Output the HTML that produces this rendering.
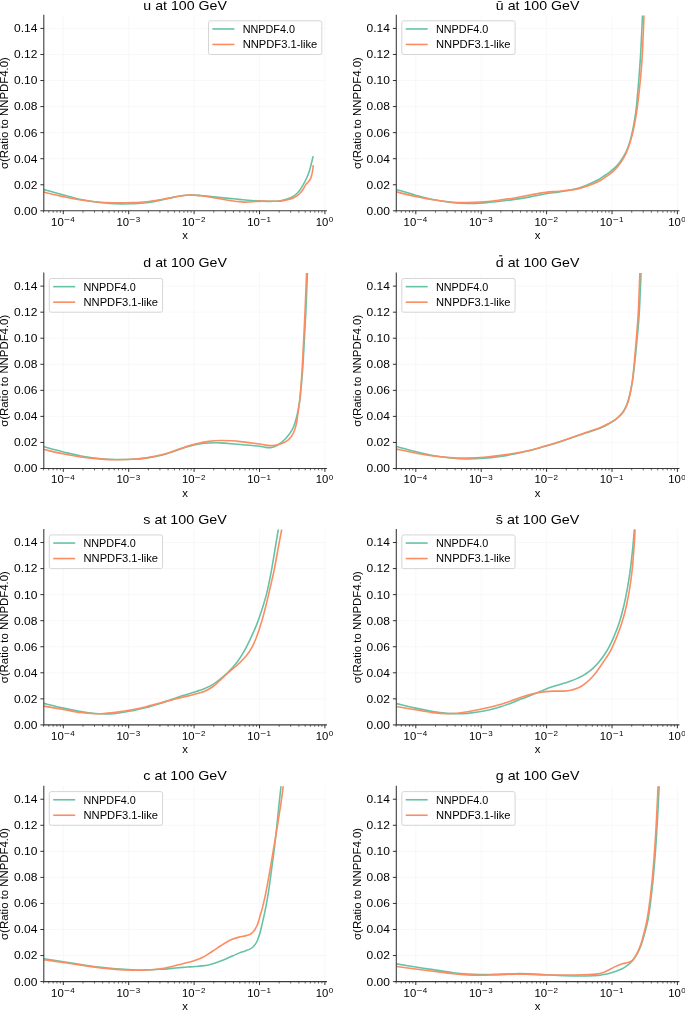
<!DOCTYPE html>
<html lang="en"><head><meta charset="utf-8"><title>PDF uncertainty comparison at 100 GeV</title>
<style>
html,body{margin:0;padding:0;background:#ffffff;}
body{width:685px;height:1010px;overflow:hidden;font-family:"Liberation Sans",sans-serif;}
svg{will-change:transform;}
svg text{font-family:"Liberation Sans",sans-serif;fill:#000000;}
.tl{font-size:11.3px;}
.tt{font-size:13.3px;}
.ts{font-size:8px;}
.grid{stroke:#f3f3f3;stroke-width:0.55;}
.spine{fill:none;stroke:#3c3c3c;stroke-width:1.1;stroke-linecap:square;}
.tick{stroke:#1c1c1c;stroke-width:0.9;}
.mtick{stroke:#2a2a2a;stroke-width:0.7;}
</style></head><body>
<svg role="img" aria-label="PDF uncertainties, ratio to NNPDF4.0, at 100 GeV" width="685" height="1010" viewBox="0 0 685 1010" style="display:block">
<rect width="685" height="1010" fill="#ffffff"/>
<defs>
<clipPath id="cp00"><rect x="43.80" y="15.40" width="282.60" height="195.40"/></clipPath>
<clipPath id="cp01"><rect x="396.30" y="15.40" width="282.60" height="195.40"/></clipPath>
<clipPath id="cp10"><rect x="43.80" y="273.10" width="282.60" height="195.40"/></clipPath>
<clipPath id="cp11"><rect x="396.30" y="273.10" width="282.60" height="195.40"/></clipPath>
<clipPath id="cp20"><rect x="43.80" y="529.50" width="282.60" height="195.40"/></clipPath>
<clipPath id="cp21"><rect x="396.30" y="529.50" width="282.60" height="195.40"/></clipPath>
<clipPath id="cp30"><rect x="43.80" y="786.20" width="282.60" height="195.40"/></clipPath>
<clipPath id="cp31"><rect x="396.30" y="786.20" width="282.60" height="195.40"/></clipPath>
</defs>
<g id="ax00"><line x1="63.30" y1="15.40" x2="63.30" y2="210.80" class="grid"/>
<line x1="128.70" y1="15.40" x2="128.70" y2="210.80" class="grid"/>
<line x1="194.10" y1="15.40" x2="194.10" y2="210.80" class="grid"/>
<line x1="259.50" y1="15.40" x2="259.50" y2="210.80" class="grid"/>
<line x1="324.90" y1="15.40" x2="324.90" y2="210.80" class="grid"/>
<line x1="43.80" y1="210.80" x2="326.40" y2="210.80" class="grid"/>
<line x1="43.80" y1="184.75" x2="326.40" y2="184.75" class="grid"/>
<line x1="43.80" y1="158.69" x2="326.40" y2="158.69" class="grid"/>
<line x1="43.80" y1="132.64" x2="326.40" y2="132.64" class="grid"/>
<line x1="43.80" y1="106.59" x2="326.40" y2="106.59" class="grid"/>
<line x1="43.80" y1="80.53" x2="326.40" y2="80.53" class="grid"/>
<line x1="43.80" y1="54.48" x2="326.40" y2="54.48" class="grid"/>
<line x1="43.80" y1="28.43" x2="326.40" y2="28.43" class="grid"/>
<path d="M43.80,189.40 C47.08,190.33 57.30,193.29 63.48,194.98 C69.67,196.66 74.62,198.23 80.92,199.52 C87.22,200.81 94.50,201.99 101.29,202.72 C108.09,203.44 116.58,203.72 121.70,203.89 C126.82,204.05 127.90,203.92 132.00,203.72 C136.10,203.52 141.20,203.35 146.30,202.69 C151.40,202.03 158.64,200.54 162.59,199.77 C166.54,198.99 167.07,198.67 170.01,198.04 C172.95,197.41 176.80,196.50 180.20,195.98 C183.60,195.47 186.98,195.03 190.40,194.95 C193.82,194.87 197.28,195.21 200.70,195.49 C204.11,195.76 207.50,196.23 210.90,196.58 C214.30,196.94 217.70,197.27 221.10,197.60 C224.50,197.94 227.90,198.27 231.30,198.60 C234.70,198.94 238.10,199.29 241.50,199.60 C244.90,199.92 248.28,200.25 251.70,200.50 C255.12,200.75 258.58,200.98 262.00,201.11 C265.42,201.25 269.14,201.39 272.21,201.31 C275.27,201.24 277.68,201.13 280.40,200.68 C283.12,200.23 286.14,199.48 288.52,198.61 C290.89,197.74 292.96,196.64 294.67,195.45 C296.38,194.27 297.42,193.19 298.77,191.50 C300.13,189.81 301.47,187.66 302.83,185.32 C304.18,182.99 305.79,179.92 306.90,177.50 C308.01,175.08 308.72,173.18 309.47,170.79 C310.23,168.41 310.81,165.66 311.43,163.21 C312.05,160.76 312.91,157.28 313.20,156.10" fill="none" stroke="#66c2a5" stroke-width="1.6" stroke-linecap="butt" stroke-linejoin="round" clip-path="url(#cp00)"/>
<path d="M43.80,192.10 C47.08,192.86 57.31,195.32 63.50,196.64 C69.68,197.95 74.61,199.03 80.91,199.97 C87.21,200.91 94.50,201.82 101.30,202.28 C108.10,202.75 116.58,202.70 121.70,202.76 C126.82,202.83 127.90,202.84 132.00,202.66 C136.10,202.49 141.20,202.27 146.30,201.69 C151.40,201.12 158.66,199.86 162.60,199.23 C166.55,198.61 167.06,198.50 169.99,197.96 C172.93,197.42 176.81,196.49 180.21,195.99 C183.61,195.49 186.98,195.00 190.40,194.97 C193.81,194.93 197.28,195.39 200.70,195.77 C204.11,196.14 207.50,196.67 210.90,197.21 C214.30,197.75 217.70,198.42 221.10,199.00 C224.50,199.58 227.90,200.21 231.30,200.70 C234.70,201.18 238.77,201.67 241.50,201.90 C244.24,202.13 245.31,202.13 247.70,202.07 C250.08,202.00 253.08,201.67 255.80,201.51 C258.52,201.36 261.27,201.17 264.00,201.13 C266.73,201.10 269.47,201.31 272.20,201.30 C274.94,201.29 277.69,201.37 280.40,201.08 C283.12,200.80 286.12,200.25 288.50,199.60 C290.88,198.95 292.98,198.05 294.70,197.20 C296.42,196.35 297.45,195.73 298.80,194.50 C300.15,193.27 301.65,191.45 302.80,189.80 C303.95,188.15 304.80,185.90 305.70,184.60 C306.60,183.30 307.37,183.05 308.20,182.00 C309.03,180.95 310.07,179.65 310.70,178.30 C311.33,176.95 311.63,175.47 312.00,173.90 C312.37,172.33 312.70,170.37 312.90,168.90 C313.10,167.43 313.15,165.73 313.20,165.10" fill="none" stroke="#fc8d62" stroke-width="1.6" stroke-linecap="butt" stroke-linejoin="round" clip-path="url(#cp00)"/>
<path d="M43.80,15.40 V210.80 H326.40" class="spine"/>
<line x1="63.30" y1="210.80" x2="63.30" y2="214.20" class="tick"/>
<text x="63.70" y="225.70" class="tl" text-anchor="end">10</text>
<text x="64.20" y="221.80" class="ts"><tspan textLength="5.9" lengthAdjust="spacingAndGlyphs">−</tspan><tspan x="70.30">4</tspan></text>
<line x1="128.70" y1="210.80" x2="128.70" y2="214.20" class="tick"/>
<text x="129.10" y="225.70" class="tl" text-anchor="end">10</text>
<text x="129.60" y="221.80" class="ts"><tspan textLength="5.9" lengthAdjust="spacingAndGlyphs">−</tspan><tspan x="135.70">3</tspan></text>
<line x1="194.10" y1="210.80" x2="194.10" y2="214.20" class="tick"/>
<text x="194.50" y="225.70" class="tl" text-anchor="end">10</text>
<text x="195.00" y="221.80" class="ts"><tspan textLength="5.9" lengthAdjust="spacingAndGlyphs">−</tspan><tspan x="201.10">2</tspan></text>
<line x1="259.50" y1="210.80" x2="259.50" y2="214.20" class="tick"/>
<text x="259.90" y="225.70" class="tl" text-anchor="end">10</text>
<text x="260.40" y="221.80" class="ts"><tspan textLength="5.9" lengthAdjust="spacingAndGlyphs">−</tspan><tspan x="266.50">1</tspan></text>
<line x1="324.90" y1="210.80" x2="324.90" y2="214.20" class="tick"/>
<text x="328.30" y="225.70" class="tl" text-anchor="end">10</text>
<text x="328.80" y="221.80" class="ts">0</text>
<line x1="43.61" y1="210.80" x2="43.61" y2="212.70" class="mtick"/>
<line x1="48.79" y1="210.80" x2="48.79" y2="212.70" class="mtick"/>
<line x1="53.17" y1="210.80" x2="53.17" y2="212.70" class="mtick"/>
<line x1="56.96" y1="210.80" x2="56.96" y2="212.70" class="mtick"/>
<line x1="60.31" y1="210.80" x2="60.31" y2="212.70" class="mtick"/>
<line x1="82.99" y1="210.80" x2="82.99" y2="212.70" class="mtick"/>
<line x1="94.50" y1="210.80" x2="94.50" y2="212.70" class="mtick"/>
<line x1="102.67" y1="210.80" x2="102.67" y2="212.70" class="mtick"/>
<line x1="109.01" y1="210.80" x2="109.01" y2="212.70" class="mtick"/>
<line x1="114.19" y1="210.80" x2="114.19" y2="212.70" class="mtick"/>
<line x1="118.57" y1="210.80" x2="118.57" y2="212.70" class="mtick"/>
<line x1="122.36" y1="210.80" x2="122.36" y2="212.70" class="mtick"/>
<line x1="125.71" y1="210.80" x2="125.71" y2="212.70" class="mtick"/>
<line x1="148.39" y1="210.80" x2="148.39" y2="212.70" class="mtick"/>
<line x1="159.90" y1="210.80" x2="159.90" y2="212.70" class="mtick"/>
<line x1="168.07" y1="210.80" x2="168.07" y2="212.70" class="mtick"/>
<line x1="174.41" y1="210.80" x2="174.41" y2="212.70" class="mtick"/>
<line x1="179.59" y1="210.80" x2="179.59" y2="212.70" class="mtick"/>
<line x1="183.97" y1="210.80" x2="183.97" y2="212.70" class="mtick"/>
<line x1="187.76" y1="210.80" x2="187.76" y2="212.70" class="mtick"/>
<line x1="191.11" y1="210.80" x2="191.11" y2="212.70" class="mtick"/>
<line x1="213.79" y1="210.80" x2="213.79" y2="212.70" class="mtick"/>
<line x1="225.30" y1="210.80" x2="225.30" y2="212.70" class="mtick"/>
<line x1="233.47" y1="210.80" x2="233.47" y2="212.70" class="mtick"/>
<line x1="239.81" y1="210.80" x2="239.81" y2="212.70" class="mtick"/>
<line x1="244.99" y1="210.80" x2="244.99" y2="212.70" class="mtick"/>
<line x1="249.37" y1="210.80" x2="249.37" y2="212.70" class="mtick"/>
<line x1="253.16" y1="210.80" x2="253.16" y2="212.70" class="mtick"/>
<line x1="256.51" y1="210.80" x2="256.51" y2="212.70" class="mtick"/>
<line x1="279.19" y1="210.80" x2="279.19" y2="212.70" class="mtick"/>
<line x1="290.70" y1="210.80" x2="290.70" y2="212.70" class="mtick"/>
<line x1="298.87" y1="210.80" x2="298.87" y2="212.70" class="mtick"/>
<line x1="305.21" y1="210.80" x2="305.21" y2="212.70" class="mtick"/>
<line x1="310.39" y1="210.80" x2="310.39" y2="212.70" class="mtick"/>
<line x1="314.77" y1="210.80" x2="314.77" y2="212.70" class="mtick"/>
<line x1="318.56" y1="210.80" x2="318.56" y2="212.70" class="mtick"/>
<line x1="321.91" y1="210.80" x2="321.91" y2="212.70" class="mtick"/>
<line x1="40.40" y1="210.80" x2="43.80" y2="210.80" class="tick"/>
<text x="37.50" y="214.70" class="tl" text-anchor="end" textLength="23.4" lengthAdjust="spacingAndGlyphs">0.00</text>
<line x1="40.40" y1="184.75" x2="43.80" y2="184.75" class="tick"/>
<text x="37.50" y="188.65" class="tl" text-anchor="end" textLength="23.4" lengthAdjust="spacingAndGlyphs">0.02</text>
<line x1="40.40" y1="158.69" x2="43.80" y2="158.69" class="tick"/>
<text x="37.50" y="162.59" class="tl" text-anchor="end" textLength="23.4" lengthAdjust="spacingAndGlyphs">0.04</text>
<line x1="40.40" y1="132.64" x2="43.80" y2="132.64" class="tick"/>
<text x="37.50" y="136.54" class="tl" text-anchor="end" textLength="23.4" lengthAdjust="spacingAndGlyphs">0.06</text>
<line x1="40.40" y1="106.59" x2="43.80" y2="106.59" class="tick"/>
<text x="37.50" y="110.49" class="tl" text-anchor="end" textLength="23.4" lengthAdjust="spacingAndGlyphs">0.08</text>
<line x1="40.40" y1="80.53" x2="43.80" y2="80.53" class="tick"/>
<text x="37.50" y="84.43" class="tl" text-anchor="end" textLength="23.4" lengthAdjust="spacingAndGlyphs">0.10</text>
<line x1="40.40" y1="54.48" x2="43.80" y2="54.48" class="tick"/>
<text x="37.50" y="58.38" class="tl" text-anchor="end" textLength="23.4" lengthAdjust="spacingAndGlyphs">0.12</text>
<line x1="40.40" y1="28.43" x2="43.80" y2="28.43" class="tick"/>
<text x="37.50" y="32.33" class="tl" text-anchor="end" textLength="23.4" lengthAdjust="spacingAndGlyphs">0.14</text>
<text x="185.10" y="239.30" class="tl" text-anchor="middle">x</text>
<text transform="translate(8.20,113.10) rotate(-90)" class="tl" text-anchor="middle" textLength="112" lengthAdjust="spacingAndGlyphs">σ(Ratio to NNPDF4.0)</text>
<text x="185.10" y="9.50" class="tt" text-anchor="middle" textLength="83.5" lengthAdjust="spacingAndGlyphs">u at 100 GeV</text>
<rect x="208.50" y="20.80" width="113.3" height="33.7" rx="2" ry="2" fill="#ffffff" fill-opacity="0.8" stroke="#cccccc" stroke-width="0.8"/>
<line x1="212.40" y1="28.95" x2="234.40" y2="28.95" stroke="#66c2a5" stroke-width="1.6"/>
<text x="242.70" y="32.85" class="tl" textLength="52.3" lengthAdjust="spacingAndGlyphs">NNPDF4.0</text>
<line x1="212.40" y1="44.45" x2="234.40" y2="44.45" stroke="#fc8d62" stroke-width="1.6"/>
<text x="242.70" y="48.35" class="tl" textLength="74.5" lengthAdjust="spacingAndGlyphs">NNPDF3.1-like</text></g>
<g id="ax01"><line x1="415.80" y1="15.40" x2="415.80" y2="210.80" class="grid"/>
<line x1="481.20" y1="15.40" x2="481.20" y2="210.80" class="grid"/>
<line x1="546.60" y1="15.40" x2="546.60" y2="210.80" class="grid"/>
<line x1="612.00" y1="15.40" x2="612.00" y2="210.80" class="grid"/>
<line x1="677.40" y1="15.40" x2="677.40" y2="210.80" class="grid"/>
<line x1="396.30" y1="210.80" x2="678.90" y2="210.80" class="grid"/>
<line x1="396.30" y1="184.75" x2="678.90" y2="184.75" class="grid"/>
<line x1="396.30" y1="158.69" x2="678.90" y2="158.69" class="grid"/>
<line x1="396.30" y1="132.64" x2="678.90" y2="132.64" class="grid"/>
<line x1="396.30" y1="106.59" x2="678.90" y2="106.59" class="grid"/>
<line x1="396.30" y1="80.53" x2="678.90" y2="80.53" class="grid"/>
<line x1="396.30" y1="54.48" x2="678.90" y2="54.48" class="grid"/>
<line x1="396.30" y1="28.43" x2="678.90" y2="28.43" class="grid"/>
<path d="M396.30,189.40 C399.50,190.36 409.39,193.46 415.49,195.15 C421.59,196.84 426.61,198.31 432.91,199.56 C439.21,200.82 447.52,202.05 453.30,202.70 C459.08,203.36 462.48,203.45 467.60,203.48 C472.71,203.51 478.88,203.22 484.00,202.90 C489.12,202.57 493.20,202.10 498.30,201.52 C503.40,200.93 509.32,200.18 514.60,199.40 C519.88,198.63 524.79,197.79 529.99,196.86 C535.19,195.92 540.91,194.62 545.82,193.79 C550.72,192.96 554.49,192.68 559.40,191.88 C564.31,191.09 570.75,190.16 575.29,189.04 C579.82,187.91 582.88,186.66 586.61,185.14 C590.34,183.63 594.89,181.40 597.67,179.95 C600.46,178.50 601.37,177.72 603.33,176.44 C605.28,175.17 607.38,173.84 609.40,172.30 C611.43,170.75 613.69,168.96 615.48,167.18 C617.26,165.40 618.67,163.57 620.12,161.62 C621.57,159.67 622.94,157.71 624.18,155.49 C625.43,153.27 626.58,150.87 627.60,148.30 C628.62,145.74 629.52,142.82 630.30,140.10 C631.09,137.39 631.72,134.63 632.30,132.00 C632.88,129.37 633.35,126.77 633.80,124.30 C634.25,121.83 634.64,119.59 635.01,117.20 C635.39,114.82 635.70,112.99 636.05,109.99 C636.40,106.99 636.66,104.23 637.11,99.20 C637.57,94.17 638.22,87.23 638.80,79.80 C639.38,72.37 639.98,65.37 640.60,54.60 C641.22,43.83 642.13,23.47 642.51,15.20 C642.89,6.93 642.84,6.70 642.90,5.00" fill="none" stroke="#66c2a5" stroke-width="1.6" stroke-linecap="butt" stroke-linejoin="round" clip-path="url(#cp01)"/>
<path d="M396.30,191.90 C399.50,192.65 409.40,195.11 415.50,196.42 C421.60,197.74 426.60,198.82 432.90,199.80 C439.20,200.77 447.52,201.81 453.30,202.26 C459.09,202.71 462.48,202.61 467.60,202.52 C472.71,202.42 478.88,202.07 484.00,201.69 C489.12,201.31 493.20,200.84 498.30,200.22 C503.40,199.60 509.31,198.83 514.59,197.96 C519.88,197.09 524.80,195.94 530.00,195.01 C535.21,194.08 540.91,193.02 545.81,192.38 C550.71,191.75 554.49,191.69 559.40,191.18 C564.31,190.67 570.76,190.17 575.29,189.34 C579.82,188.51 583.48,187.21 586.60,186.22 C589.72,185.23 591.58,184.46 594.01,183.41 C596.44,182.37 599.11,181.12 601.17,179.96 C603.24,178.79 604.54,177.80 606.42,176.44 C608.31,175.08 610.64,173.41 612.50,171.79 C614.36,170.17 616.05,168.47 617.59,166.69 C619.12,164.91 620.43,163.06 621.71,161.11 C623.00,159.16 624.18,157.21 625.28,154.99 C626.38,152.77 627.37,150.37 628.30,147.80 C629.24,145.24 630.14,142.24 630.91,139.60 C631.67,136.97 632.29,134.55 632.89,132.00 C633.49,129.45 634.02,126.77 634.50,124.30 C634.99,121.83 635.40,119.59 635.81,117.20 C636.22,114.82 636.55,112.99 636.96,109.99 C637.38,106.99 637.75,104.23 638.32,99.20 C638.89,94.17 639.71,87.23 640.38,79.80 C641.04,72.36 641.70,65.37 642.31,54.60 C642.91,43.84 643.68,23.47 644.03,15.20 C644.38,6.93 644.34,6.70 644.40,5.00" fill="none" stroke="#fc8d62" stroke-width="1.6" stroke-linecap="butt" stroke-linejoin="round" clip-path="url(#cp01)"/>
<path d="M396.30,15.40 V210.80 H678.90" class="spine"/>
<line x1="415.80" y1="210.80" x2="415.80" y2="214.20" class="tick"/>
<text x="416.20" y="225.70" class="tl" text-anchor="end">10</text>
<text x="416.70" y="221.80" class="ts"><tspan textLength="5.9" lengthAdjust="spacingAndGlyphs">−</tspan><tspan x="422.80">4</tspan></text>
<line x1="481.20" y1="210.80" x2="481.20" y2="214.20" class="tick"/>
<text x="481.60" y="225.70" class="tl" text-anchor="end">10</text>
<text x="482.10" y="221.80" class="ts"><tspan textLength="5.9" lengthAdjust="spacingAndGlyphs">−</tspan><tspan x="488.20">3</tspan></text>
<line x1="546.60" y1="210.80" x2="546.60" y2="214.20" class="tick"/>
<text x="547.00" y="225.70" class="tl" text-anchor="end">10</text>
<text x="547.50" y="221.80" class="ts"><tspan textLength="5.9" lengthAdjust="spacingAndGlyphs">−</tspan><tspan x="553.60">2</tspan></text>
<line x1="612.00" y1="210.80" x2="612.00" y2="214.20" class="tick"/>
<text x="612.40" y="225.70" class="tl" text-anchor="end">10</text>
<text x="612.90" y="221.80" class="ts"><tspan textLength="5.9" lengthAdjust="spacingAndGlyphs">−</tspan><tspan x="619.00">1</tspan></text>
<line x1="677.40" y1="210.80" x2="677.40" y2="214.20" class="tick"/>
<text x="680.80" y="225.70" class="tl" text-anchor="end">10</text>
<text x="681.30" y="221.80" class="ts">0</text>
<line x1="396.11" y1="210.80" x2="396.11" y2="212.70" class="mtick"/>
<line x1="401.29" y1="210.80" x2="401.29" y2="212.70" class="mtick"/>
<line x1="405.67" y1="210.80" x2="405.67" y2="212.70" class="mtick"/>
<line x1="409.46" y1="210.80" x2="409.46" y2="212.70" class="mtick"/>
<line x1="412.81" y1="210.80" x2="412.81" y2="212.70" class="mtick"/>
<line x1="435.49" y1="210.80" x2="435.49" y2="212.70" class="mtick"/>
<line x1="447.00" y1="210.80" x2="447.00" y2="212.70" class="mtick"/>
<line x1="455.17" y1="210.80" x2="455.17" y2="212.70" class="mtick"/>
<line x1="461.51" y1="210.80" x2="461.51" y2="212.70" class="mtick"/>
<line x1="466.69" y1="210.80" x2="466.69" y2="212.70" class="mtick"/>
<line x1="471.07" y1="210.80" x2="471.07" y2="212.70" class="mtick"/>
<line x1="474.86" y1="210.80" x2="474.86" y2="212.70" class="mtick"/>
<line x1="478.21" y1="210.80" x2="478.21" y2="212.70" class="mtick"/>
<line x1="500.89" y1="210.80" x2="500.89" y2="212.70" class="mtick"/>
<line x1="512.40" y1="210.80" x2="512.40" y2="212.70" class="mtick"/>
<line x1="520.57" y1="210.80" x2="520.57" y2="212.70" class="mtick"/>
<line x1="526.91" y1="210.80" x2="526.91" y2="212.70" class="mtick"/>
<line x1="532.09" y1="210.80" x2="532.09" y2="212.70" class="mtick"/>
<line x1="536.47" y1="210.80" x2="536.47" y2="212.70" class="mtick"/>
<line x1="540.26" y1="210.80" x2="540.26" y2="212.70" class="mtick"/>
<line x1="543.61" y1="210.80" x2="543.61" y2="212.70" class="mtick"/>
<line x1="566.29" y1="210.80" x2="566.29" y2="212.70" class="mtick"/>
<line x1="577.80" y1="210.80" x2="577.80" y2="212.70" class="mtick"/>
<line x1="585.97" y1="210.80" x2="585.97" y2="212.70" class="mtick"/>
<line x1="592.31" y1="210.80" x2="592.31" y2="212.70" class="mtick"/>
<line x1="597.49" y1="210.80" x2="597.49" y2="212.70" class="mtick"/>
<line x1="601.87" y1="210.80" x2="601.87" y2="212.70" class="mtick"/>
<line x1="605.66" y1="210.80" x2="605.66" y2="212.70" class="mtick"/>
<line x1="609.01" y1="210.80" x2="609.01" y2="212.70" class="mtick"/>
<line x1="631.69" y1="210.80" x2="631.69" y2="212.70" class="mtick"/>
<line x1="643.20" y1="210.80" x2="643.20" y2="212.70" class="mtick"/>
<line x1="651.37" y1="210.80" x2="651.37" y2="212.70" class="mtick"/>
<line x1="657.71" y1="210.80" x2="657.71" y2="212.70" class="mtick"/>
<line x1="662.89" y1="210.80" x2="662.89" y2="212.70" class="mtick"/>
<line x1="667.27" y1="210.80" x2="667.27" y2="212.70" class="mtick"/>
<line x1="671.06" y1="210.80" x2="671.06" y2="212.70" class="mtick"/>
<line x1="674.41" y1="210.80" x2="674.41" y2="212.70" class="mtick"/>
<line x1="392.90" y1="210.80" x2="396.30" y2="210.80" class="tick"/>
<text x="390.00" y="214.70" class="tl" text-anchor="end" textLength="23.4" lengthAdjust="spacingAndGlyphs">0.00</text>
<line x1="392.90" y1="184.75" x2="396.30" y2="184.75" class="tick"/>
<text x="390.00" y="188.65" class="tl" text-anchor="end" textLength="23.4" lengthAdjust="spacingAndGlyphs">0.02</text>
<line x1="392.90" y1="158.69" x2="396.30" y2="158.69" class="tick"/>
<text x="390.00" y="162.59" class="tl" text-anchor="end" textLength="23.4" lengthAdjust="spacingAndGlyphs">0.04</text>
<line x1="392.90" y1="132.64" x2="396.30" y2="132.64" class="tick"/>
<text x="390.00" y="136.54" class="tl" text-anchor="end" textLength="23.4" lengthAdjust="spacingAndGlyphs">0.06</text>
<line x1="392.90" y1="106.59" x2="396.30" y2="106.59" class="tick"/>
<text x="390.00" y="110.49" class="tl" text-anchor="end" textLength="23.4" lengthAdjust="spacingAndGlyphs">0.08</text>
<line x1="392.90" y1="80.53" x2="396.30" y2="80.53" class="tick"/>
<text x="390.00" y="84.43" class="tl" text-anchor="end" textLength="23.4" lengthAdjust="spacingAndGlyphs">0.10</text>
<line x1="392.90" y1="54.48" x2="396.30" y2="54.48" class="tick"/>
<text x="390.00" y="58.38" class="tl" text-anchor="end" textLength="23.4" lengthAdjust="spacingAndGlyphs">0.12</text>
<line x1="392.90" y1="28.43" x2="396.30" y2="28.43" class="tick"/>
<text x="390.00" y="32.33" class="tl" text-anchor="end" textLength="23.4" lengthAdjust="spacingAndGlyphs">0.14</text>
<text x="537.60" y="239.30" class="tl" text-anchor="middle">x</text>
<text transform="translate(360.70,113.10) rotate(-90)" class="tl" text-anchor="middle" textLength="112" lengthAdjust="spacingAndGlyphs">σ(Ratio to NNPDF4.0)</text>
<text x="537.60" y="9.50" class="tt" text-anchor="middle" textLength="83.5" lengthAdjust="spacingAndGlyphs">ū at 100 GeV</text>
<rect x="401.80" y="20.80" width="113.3" height="33.7" rx="2" ry="2" fill="#ffffff" fill-opacity="0.8" stroke="#cccccc" stroke-width="0.8"/>
<line x1="405.70" y1="28.95" x2="427.70" y2="28.95" stroke="#66c2a5" stroke-width="1.6"/>
<text x="436.00" y="32.85" class="tl" textLength="52.3" lengthAdjust="spacingAndGlyphs">NNPDF4.0</text>
<line x1="405.70" y1="44.45" x2="427.70" y2="44.45" stroke="#fc8d62" stroke-width="1.6"/>
<text x="436.00" y="48.35" class="tl" textLength="74.5" lengthAdjust="spacingAndGlyphs">NNPDF3.1-like</text></g>
<g id="ax10"><line x1="63.30" y1="273.10" x2="63.30" y2="468.50" class="grid"/>
<line x1="128.70" y1="273.10" x2="128.70" y2="468.50" class="grid"/>
<line x1="194.10" y1="273.10" x2="194.10" y2="468.50" class="grid"/>
<line x1="259.50" y1="273.10" x2="259.50" y2="468.50" class="grid"/>
<line x1="324.90" y1="273.10" x2="324.90" y2="468.50" class="grid"/>
<line x1="43.80" y1="468.50" x2="326.40" y2="468.50" class="grid"/>
<line x1="43.80" y1="442.45" x2="326.40" y2="442.45" class="grid"/>
<line x1="43.80" y1="416.39" x2="326.40" y2="416.39" class="grid"/>
<line x1="43.80" y1="390.34" x2="326.40" y2="390.34" class="grid"/>
<line x1="43.80" y1="364.29" x2="326.40" y2="364.29" class="grid"/>
<line x1="43.80" y1="338.23" x2="326.40" y2="338.23" class="grid"/>
<line x1="43.80" y1="312.18" x2="326.40" y2="312.18" class="grid"/>
<line x1="43.80" y1="286.13" x2="326.40" y2="286.13" class="grid"/>
<path d="M43.80,446.80 C47.08,447.66 57.31,450.43 63.49,451.96 C69.68,453.48 74.61,454.83 80.91,455.95 C87.21,457.08 95.52,458.12 101.30,458.71 C107.08,459.30 110.48,459.40 115.60,459.50 C120.72,459.60 126.89,459.55 132.00,459.31 C137.12,459.08 141.20,458.82 146.30,458.09 C151.40,457.37 157.80,456.13 162.58,454.95 C167.37,453.77 171.05,452.32 175.00,451.01 C178.95,449.70 182.54,448.24 186.31,447.10 C190.08,445.96 193.85,444.84 197.61,444.15 C201.37,443.46 205.11,443.19 208.90,442.97 C212.68,442.75 216.51,442.71 220.30,442.83 C224.08,442.95 227.83,443.36 231.60,443.69 C235.37,444.01 239.13,444.45 242.90,444.78 C246.67,445.12 251.36,445.43 254.20,445.68 C257.05,445.93 258.13,446.02 259.99,446.30 C261.84,446.58 263.56,447.15 265.31,447.37 C267.07,447.58 268.91,447.73 270.50,447.58 C272.10,447.43 273.42,447.08 274.89,446.49 C276.35,445.89 277.85,445.01 279.30,444.01 C280.75,443.01 282.15,441.89 283.60,440.50 C285.05,439.12 286.70,437.31 288.01,435.71 C289.33,434.11 290.46,432.64 291.48,430.89 C292.51,429.14 293.45,427.10 294.19,425.20 C294.93,423.30 295.41,421.32 295.91,419.51 C296.42,417.69 296.70,416.64 297.22,414.30 C297.74,411.97 298.48,408.82 299.03,405.49 C299.57,402.15 299.91,399.88 300.49,394.30 C301.06,388.72 301.85,380.66 302.47,372.00 C303.10,363.33 303.68,352.20 304.23,342.30 C304.78,332.40 305.26,324.12 305.79,312.60 C306.32,301.08 307.08,281.47 307.41,273.20 C307.75,264.93 307.74,264.70 307.80,263.00" fill="none" stroke="#66c2a5" stroke-width="1.6" stroke-linecap="butt" stroke-linejoin="round" clip-path="url(#cp10)"/>
<path d="M43.80,449.50 C47.08,450.22 57.31,452.59 63.50,453.83 C69.68,455.08 74.60,456.09 80.90,456.97 C87.21,457.85 95.52,458.66 101.30,459.11 C107.08,459.57 110.48,459.66 115.60,459.69 C120.72,459.73 126.89,459.61 132.00,459.31 C137.12,459.01 141.20,458.69 146.30,457.89 C151.40,457.10 157.80,455.78 162.58,454.55 C167.37,453.32 171.05,451.84 175.00,450.51 C178.96,449.19 182.54,447.79 186.31,446.62 C190.07,445.45 193.84,444.37 197.60,443.50 C201.37,442.63 205.12,441.90 208.90,441.41 C212.68,440.91 216.52,440.61 220.30,440.51 C224.08,440.41 227.83,440.58 231.60,440.81 C235.36,441.03 239.13,441.48 242.90,441.88 C246.67,442.28 251.35,442.82 254.20,443.19 C257.05,443.55 258.14,443.73 259.99,444.06 C261.84,444.39 263.56,444.90 265.31,445.16 C267.06,445.42 268.91,445.58 270.50,445.62 C272.10,445.65 273.43,445.60 274.89,445.37 C276.36,445.14 277.86,444.68 279.31,444.23 C280.76,443.79 282.16,443.38 283.60,442.69 C285.05,442.00 286.67,441.17 287.99,440.09 C289.30,439.00 290.54,437.51 291.49,436.20 C292.44,434.89 293.04,433.67 293.71,432.21 C294.37,430.74 294.97,429.22 295.48,427.40 C296.00,425.58 296.41,423.48 296.80,421.30 C297.19,419.12 297.45,416.94 297.82,414.30 C298.19,411.67 298.65,408.42 299.02,405.50 C299.39,402.58 299.55,402.38 300.05,396.79 C300.54,391.21 301.40,381.08 301.98,372.00 C302.56,362.92 303.03,352.20 303.53,342.30 C304.04,332.40 304.49,324.12 304.99,312.60 C305.49,301.08 306.20,281.47 306.52,273.20 C306.83,264.93 306.84,264.70 306.90,263.00" fill="none" stroke="#fc8d62" stroke-width="1.6" stroke-linecap="butt" stroke-linejoin="round" clip-path="url(#cp10)"/>
<path d="M43.80,273.10 V468.50 H326.40" class="spine"/>
<line x1="63.30" y1="468.50" x2="63.30" y2="471.90" class="tick"/>
<text x="63.70" y="483.40" class="tl" text-anchor="end">10</text>
<text x="64.20" y="479.50" class="ts"><tspan textLength="5.9" lengthAdjust="spacingAndGlyphs">−</tspan><tspan x="70.30">4</tspan></text>
<line x1="128.70" y1="468.50" x2="128.70" y2="471.90" class="tick"/>
<text x="129.10" y="483.40" class="tl" text-anchor="end">10</text>
<text x="129.60" y="479.50" class="ts"><tspan textLength="5.9" lengthAdjust="spacingAndGlyphs">−</tspan><tspan x="135.70">3</tspan></text>
<line x1="194.10" y1="468.50" x2="194.10" y2="471.90" class="tick"/>
<text x="194.50" y="483.40" class="tl" text-anchor="end">10</text>
<text x="195.00" y="479.50" class="ts"><tspan textLength="5.9" lengthAdjust="spacingAndGlyphs">−</tspan><tspan x="201.10">2</tspan></text>
<line x1="259.50" y1="468.50" x2="259.50" y2="471.90" class="tick"/>
<text x="259.90" y="483.40" class="tl" text-anchor="end">10</text>
<text x="260.40" y="479.50" class="ts"><tspan textLength="5.9" lengthAdjust="spacingAndGlyphs">−</tspan><tspan x="266.50">1</tspan></text>
<line x1="324.90" y1="468.50" x2="324.90" y2="471.90" class="tick"/>
<text x="328.30" y="483.40" class="tl" text-anchor="end">10</text>
<text x="328.80" y="479.50" class="ts">0</text>
<line x1="43.61" y1="468.50" x2="43.61" y2="470.40" class="mtick"/>
<line x1="48.79" y1="468.50" x2="48.79" y2="470.40" class="mtick"/>
<line x1="53.17" y1="468.50" x2="53.17" y2="470.40" class="mtick"/>
<line x1="56.96" y1="468.50" x2="56.96" y2="470.40" class="mtick"/>
<line x1="60.31" y1="468.50" x2="60.31" y2="470.40" class="mtick"/>
<line x1="82.99" y1="468.50" x2="82.99" y2="470.40" class="mtick"/>
<line x1="94.50" y1="468.50" x2="94.50" y2="470.40" class="mtick"/>
<line x1="102.67" y1="468.50" x2="102.67" y2="470.40" class="mtick"/>
<line x1="109.01" y1="468.50" x2="109.01" y2="470.40" class="mtick"/>
<line x1="114.19" y1="468.50" x2="114.19" y2="470.40" class="mtick"/>
<line x1="118.57" y1="468.50" x2="118.57" y2="470.40" class="mtick"/>
<line x1="122.36" y1="468.50" x2="122.36" y2="470.40" class="mtick"/>
<line x1="125.71" y1="468.50" x2="125.71" y2="470.40" class="mtick"/>
<line x1="148.39" y1="468.50" x2="148.39" y2="470.40" class="mtick"/>
<line x1="159.90" y1="468.50" x2="159.90" y2="470.40" class="mtick"/>
<line x1="168.07" y1="468.50" x2="168.07" y2="470.40" class="mtick"/>
<line x1="174.41" y1="468.50" x2="174.41" y2="470.40" class="mtick"/>
<line x1="179.59" y1="468.50" x2="179.59" y2="470.40" class="mtick"/>
<line x1="183.97" y1="468.50" x2="183.97" y2="470.40" class="mtick"/>
<line x1="187.76" y1="468.50" x2="187.76" y2="470.40" class="mtick"/>
<line x1="191.11" y1="468.50" x2="191.11" y2="470.40" class="mtick"/>
<line x1="213.79" y1="468.50" x2="213.79" y2="470.40" class="mtick"/>
<line x1="225.30" y1="468.50" x2="225.30" y2="470.40" class="mtick"/>
<line x1="233.47" y1="468.50" x2="233.47" y2="470.40" class="mtick"/>
<line x1="239.81" y1="468.50" x2="239.81" y2="470.40" class="mtick"/>
<line x1="244.99" y1="468.50" x2="244.99" y2="470.40" class="mtick"/>
<line x1="249.37" y1="468.50" x2="249.37" y2="470.40" class="mtick"/>
<line x1="253.16" y1="468.50" x2="253.16" y2="470.40" class="mtick"/>
<line x1="256.51" y1="468.50" x2="256.51" y2="470.40" class="mtick"/>
<line x1="279.19" y1="468.50" x2="279.19" y2="470.40" class="mtick"/>
<line x1="290.70" y1="468.50" x2="290.70" y2="470.40" class="mtick"/>
<line x1="298.87" y1="468.50" x2="298.87" y2="470.40" class="mtick"/>
<line x1="305.21" y1="468.50" x2="305.21" y2="470.40" class="mtick"/>
<line x1="310.39" y1="468.50" x2="310.39" y2="470.40" class="mtick"/>
<line x1="314.77" y1="468.50" x2="314.77" y2="470.40" class="mtick"/>
<line x1="318.56" y1="468.50" x2="318.56" y2="470.40" class="mtick"/>
<line x1="321.91" y1="468.50" x2="321.91" y2="470.40" class="mtick"/>
<line x1="40.40" y1="468.50" x2="43.80" y2="468.50" class="tick"/>
<text x="37.50" y="472.40" class="tl" text-anchor="end" textLength="23.4" lengthAdjust="spacingAndGlyphs">0.00</text>
<line x1="40.40" y1="442.45" x2="43.80" y2="442.45" class="tick"/>
<text x="37.50" y="446.35" class="tl" text-anchor="end" textLength="23.4" lengthAdjust="spacingAndGlyphs">0.02</text>
<line x1="40.40" y1="416.39" x2="43.80" y2="416.39" class="tick"/>
<text x="37.50" y="420.29" class="tl" text-anchor="end" textLength="23.4" lengthAdjust="spacingAndGlyphs">0.04</text>
<line x1="40.40" y1="390.34" x2="43.80" y2="390.34" class="tick"/>
<text x="37.50" y="394.24" class="tl" text-anchor="end" textLength="23.4" lengthAdjust="spacingAndGlyphs">0.06</text>
<line x1="40.40" y1="364.29" x2="43.80" y2="364.29" class="tick"/>
<text x="37.50" y="368.19" class="tl" text-anchor="end" textLength="23.4" lengthAdjust="spacingAndGlyphs">0.08</text>
<line x1="40.40" y1="338.23" x2="43.80" y2="338.23" class="tick"/>
<text x="37.50" y="342.13" class="tl" text-anchor="end" textLength="23.4" lengthAdjust="spacingAndGlyphs">0.10</text>
<line x1="40.40" y1="312.18" x2="43.80" y2="312.18" class="tick"/>
<text x="37.50" y="316.08" class="tl" text-anchor="end" textLength="23.4" lengthAdjust="spacingAndGlyphs">0.12</text>
<line x1="40.40" y1="286.13" x2="43.80" y2="286.13" class="tick"/>
<text x="37.50" y="290.03" class="tl" text-anchor="end" textLength="23.4" lengthAdjust="spacingAndGlyphs">0.14</text>
<text x="185.10" y="497.00" class="tl" text-anchor="middle">x</text>
<text transform="translate(8.20,370.80) rotate(-90)" class="tl" text-anchor="middle" textLength="112" lengthAdjust="spacingAndGlyphs">σ(Ratio to NNPDF4.0)</text>
<text x="185.10" y="267.20" class="tt" text-anchor="middle" textLength="83.5" lengthAdjust="spacingAndGlyphs">d at 100 GeV</text>
<rect x="49.30" y="278.50" width="113.3" height="33.7" rx="2" ry="2" fill="#ffffff" fill-opacity="0.8" stroke="#cccccc" stroke-width="0.8"/>
<line x1="53.20" y1="286.65" x2="75.20" y2="286.65" stroke="#66c2a5" stroke-width="1.6"/>
<text x="83.50" y="290.55" class="tl" textLength="52.3" lengthAdjust="spacingAndGlyphs">NNPDF4.0</text>
<line x1="53.20" y1="302.15" x2="75.20" y2="302.15" stroke="#fc8d62" stroke-width="1.6"/>
<text x="83.50" y="306.05" class="tl" textLength="74.5" lengthAdjust="spacingAndGlyphs">NNPDF3.1-like</text></g>
<g id="ax11"><line x1="415.80" y1="273.10" x2="415.80" y2="468.50" class="grid"/>
<line x1="481.20" y1="273.10" x2="481.20" y2="468.50" class="grid"/>
<line x1="546.60" y1="273.10" x2="546.60" y2="468.50" class="grid"/>
<line x1="612.00" y1="273.10" x2="612.00" y2="468.50" class="grid"/>
<line x1="677.40" y1="273.10" x2="677.40" y2="468.50" class="grid"/>
<line x1="396.30" y1="468.50" x2="678.90" y2="468.50" class="grid"/>
<line x1="396.30" y1="442.45" x2="678.90" y2="442.45" class="grid"/>
<line x1="396.30" y1="416.39" x2="678.90" y2="416.39" class="grid"/>
<line x1="396.30" y1="390.34" x2="678.90" y2="390.34" class="grid"/>
<line x1="396.30" y1="364.29" x2="678.90" y2="364.29" class="grid"/>
<line x1="396.30" y1="338.23" x2="678.90" y2="338.23" class="grid"/>
<line x1="396.30" y1="312.18" x2="678.90" y2="312.18" class="grid"/>
<line x1="396.30" y1="286.13" x2="678.90" y2="286.13" class="grid"/>
<path d="M396.30,446.60 C399.50,447.43 409.39,450.07 415.49,451.56 C421.59,453.05 426.61,454.43 432.91,455.56 C439.21,456.68 447.52,457.75 453.30,458.31 C459.08,458.86 462.48,458.91 467.60,458.88 C472.71,458.85 478.88,458.49 484.00,458.11 C489.12,457.73 493.20,457.29 498.30,456.60 C503.40,455.92 509.32,455.01 514.60,454.00 C519.88,453.00 524.79,451.90 529.99,450.58 C535.19,449.25 540.91,447.48 545.81,446.04 C550.71,444.61 554.48,443.56 559.39,441.97 C564.30,440.38 570.76,438.06 575.30,436.51 C579.84,434.95 582.51,434.04 586.62,432.65 C590.73,431.25 596.28,429.61 599.98,428.14 C603.68,426.67 606.34,425.18 608.82,423.84 C611.30,422.51 613.14,421.38 614.84,420.13 C616.55,418.88 617.79,417.57 619.05,416.35 C620.30,415.12 621.37,414.09 622.36,412.77 C623.36,411.44 624.19,410.01 625.02,408.41 C625.84,406.82 626.61,405.07 627.29,403.20 C627.97,401.33 628.56,399.24 629.11,397.20 C629.66,395.17 630.10,393.35 630.60,391.00 C631.10,388.65 631.65,385.72 632.10,383.10 C632.54,380.48 632.78,379.13 633.27,375.30 C633.75,371.46 634.35,366.35 635.01,360.10 C635.67,353.85 636.51,345.72 637.22,337.80 C637.94,329.88 638.65,323.37 639.29,312.60 C639.92,301.83 640.68,281.47 641.03,273.20 C641.39,264.94 641.34,264.70 641.40,263.00" fill="none" stroke="#66c2a5" stroke-width="1.6" stroke-linecap="butt" stroke-linejoin="round" clip-path="url(#cp11)"/>
<path d="M396.30,449.10 C399.50,449.76 409.40,451.89 415.50,453.04 C421.60,454.18 426.60,455.17 432.90,455.98 C439.21,456.79 447.52,457.54 453.30,457.90 C459.08,458.25 462.48,458.21 467.60,458.10 C472.71,457.98 478.88,457.61 484.00,457.19 C489.12,456.78 493.20,456.28 498.30,455.61 C503.40,454.95 509.32,454.12 514.60,453.21 C519.89,452.30 524.79,451.40 529.99,450.16 C535.19,448.91 540.91,447.16 545.81,445.74 C550.71,444.33 554.48,443.26 559.39,441.67 C564.31,440.08 570.76,437.76 575.30,436.20 C579.84,434.63 582.51,433.67 586.62,432.26 C590.73,430.85 596.28,429.20 599.97,427.73 C603.67,426.26 606.33,424.75 608.82,423.44 C611.30,422.13 613.13,421.04 614.88,419.86 C616.63,418.69 618.01,417.58 619.32,416.42 C620.64,415.25 621.75,414.19 622.77,412.87 C623.78,411.56 624.61,410.11 625.41,408.51 C626.22,406.92 626.94,405.18 627.59,403.30 C628.24,401.41 628.80,399.25 629.31,397.20 C629.83,395.15 630.24,393.35 630.69,391.00 C631.14,388.65 631.62,385.72 632.01,383.10 C632.41,380.48 632.64,379.13 633.05,375.29 C633.47,371.46 633.95,366.35 634.51,360.10 C635.07,353.85 635.80,345.72 636.43,337.80 C637.06,329.88 637.72,323.37 638.29,312.60 C638.85,301.83 639.52,281.47 639.84,273.20 C640.16,264.94 640.14,264.70 640.20,263.00" fill="none" stroke="#fc8d62" stroke-width="1.6" stroke-linecap="butt" stroke-linejoin="round" clip-path="url(#cp11)"/>
<path d="M396.30,273.10 V468.50 H678.90" class="spine"/>
<line x1="415.80" y1="468.50" x2="415.80" y2="471.90" class="tick"/>
<text x="416.20" y="483.40" class="tl" text-anchor="end">10</text>
<text x="416.70" y="479.50" class="ts"><tspan textLength="5.9" lengthAdjust="spacingAndGlyphs">−</tspan><tspan x="422.80">4</tspan></text>
<line x1="481.20" y1="468.50" x2="481.20" y2="471.90" class="tick"/>
<text x="481.60" y="483.40" class="tl" text-anchor="end">10</text>
<text x="482.10" y="479.50" class="ts"><tspan textLength="5.9" lengthAdjust="spacingAndGlyphs">−</tspan><tspan x="488.20">3</tspan></text>
<line x1="546.60" y1="468.50" x2="546.60" y2="471.90" class="tick"/>
<text x="547.00" y="483.40" class="tl" text-anchor="end">10</text>
<text x="547.50" y="479.50" class="ts"><tspan textLength="5.9" lengthAdjust="spacingAndGlyphs">−</tspan><tspan x="553.60">2</tspan></text>
<line x1="612.00" y1="468.50" x2="612.00" y2="471.90" class="tick"/>
<text x="612.40" y="483.40" class="tl" text-anchor="end">10</text>
<text x="612.90" y="479.50" class="ts"><tspan textLength="5.9" lengthAdjust="spacingAndGlyphs">−</tspan><tspan x="619.00">1</tspan></text>
<line x1="677.40" y1="468.50" x2="677.40" y2="471.90" class="tick"/>
<text x="680.80" y="483.40" class="tl" text-anchor="end">10</text>
<text x="681.30" y="479.50" class="ts">0</text>
<line x1="396.11" y1="468.50" x2="396.11" y2="470.40" class="mtick"/>
<line x1="401.29" y1="468.50" x2="401.29" y2="470.40" class="mtick"/>
<line x1="405.67" y1="468.50" x2="405.67" y2="470.40" class="mtick"/>
<line x1="409.46" y1="468.50" x2="409.46" y2="470.40" class="mtick"/>
<line x1="412.81" y1="468.50" x2="412.81" y2="470.40" class="mtick"/>
<line x1="435.49" y1="468.50" x2="435.49" y2="470.40" class="mtick"/>
<line x1="447.00" y1="468.50" x2="447.00" y2="470.40" class="mtick"/>
<line x1="455.17" y1="468.50" x2="455.17" y2="470.40" class="mtick"/>
<line x1="461.51" y1="468.50" x2="461.51" y2="470.40" class="mtick"/>
<line x1="466.69" y1="468.50" x2="466.69" y2="470.40" class="mtick"/>
<line x1="471.07" y1="468.50" x2="471.07" y2="470.40" class="mtick"/>
<line x1="474.86" y1="468.50" x2="474.86" y2="470.40" class="mtick"/>
<line x1="478.21" y1="468.50" x2="478.21" y2="470.40" class="mtick"/>
<line x1="500.89" y1="468.50" x2="500.89" y2="470.40" class="mtick"/>
<line x1="512.40" y1="468.50" x2="512.40" y2="470.40" class="mtick"/>
<line x1="520.57" y1="468.50" x2="520.57" y2="470.40" class="mtick"/>
<line x1="526.91" y1="468.50" x2="526.91" y2="470.40" class="mtick"/>
<line x1="532.09" y1="468.50" x2="532.09" y2="470.40" class="mtick"/>
<line x1="536.47" y1="468.50" x2="536.47" y2="470.40" class="mtick"/>
<line x1="540.26" y1="468.50" x2="540.26" y2="470.40" class="mtick"/>
<line x1="543.61" y1="468.50" x2="543.61" y2="470.40" class="mtick"/>
<line x1="566.29" y1="468.50" x2="566.29" y2="470.40" class="mtick"/>
<line x1="577.80" y1="468.50" x2="577.80" y2="470.40" class="mtick"/>
<line x1="585.97" y1="468.50" x2="585.97" y2="470.40" class="mtick"/>
<line x1="592.31" y1="468.50" x2="592.31" y2="470.40" class="mtick"/>
<line x1="597.49" y1="468.50" x2="597.49" y2="470.40" class="mtick"/>
<line x1="601.87" y1="468.50" x2="601.87" y2="470.40" class="mtick"/>
<line x1="605.66" y1="468.50" x2="605.66" y2="470.40" class="mtick"/>
<line x1="609.01" y1="468.50" x2="609.01" y2="470.40" class="mtick"/>
<line x1="631.69" y1="468.50" x2="631.69" y2="470.40" class="mtick"/>
<line x1="643.20" y1="468.50" x2="643.20" y2="470.40" class="mtick"/>
<line x1="651.37" y1="468.50" x2="651.37" y2="470.40" class="mtick"/>
<line x1="657.71" y1="468.50" x2="657.71" y2="470.40" class="mtick"/>
<line x1="662.89" y1="468.50" x2="662.89" y2="470.40" class="mtick"/>
<line x1="667.27" y1="468.50" x2="667.27" y2="470.40" class="mtick"/>
<line x1="671.06" y1="468.50" x2="671.06" y2="470.40" class="mtick"/>
<line x1="674.41" y1="468.50" x2="674.41" y2="470.40" class="mtick"/>
<line x1="392.90" y1="468.50" x2="396.30" y2="468.50" class="tick"/>
<text x="390.00" y="472.40" class="tl" text-anchor="end" textLength="23.4" lengthAdjust="spacingAndGlyphs">0.00</text>
<line x1="392.90" y1="442.45" x2="396.30" y2="442.45" class="tick"/>
<text x="390.00" y="446.35" class="tl" text-anchor="end" textLength="23.4" lengthAdjust="spacingAndGlyphs">0.02</text>
<line x1="392.90" y1="416.39" x2="396.30" y2="416.39" class="tick"/>
<text x="390.00" y="420.29" class="tl" text-anchor="end" textLength="23.4" lengthAdjust="spacingAndGlyphs">0.04</text>
<line x1="392.90" y1="390.34" x2="396.30" y2="390.34" class="tick"/>
<text x="390.00" y="394.24" class="tl" text-anchor="end" textLength="23.4" lengthAdjust="spacingAndGlyphs">0.06</text>
<line x1="392.90" y1="364.29" x2="396.30" y2="364.29" class="tick"/>
<text x="390.00" y="368.19" class="tl" text-anchor="end" textLength="23.4" lengthAdjust="spacingAndGlyphs">0.08</text>
<line x1="392.90" y1="338.23" x2="396.30" y2="338.23" class="tick"/>
<text x="390.00" y="342.13" class="tl" text-anchor="end" textLength="23.4" lengthAdjust="spacingAndGlyphs">0.10</text>
<line x1="392.90" y1="312.18" x2="396.30" y2="312.18" class="tick"/>
<text x="390.00" y="316.08" class="tl" text-anchor="end" textLength="23.4" lengthAdjust="spacingAndGlyphs">0.12</text>
<line x1="392.90" y1="286.13" x2="396.30" y2="286.13" class="tick"/>
<text x="390.00" y="290.03" class="tl" text-anchor="end" textLength="23.4" lengthAdjust="spacingAndGlyphs">0.14</text>
<text x="537.60" y="497.00" class="tl" text-anchor="middle">x</text>
<text transform="translate(360.70,370.80) rotate(-90)" class="tl" text-anchor="middle" textLength="112" lengthAdjust="spacingAndGlyphs">σ(Ratio to NNPDF4.0)</text>
<text x="537.60" y="267.20" class="tt" text-anchor="middle" textLength="83.5" lengthAdjust="spacingAndGlyphs">d at 100 GeV</text>
<line x1="499.10" y1="255.80" x2="502.30" y2="255.80" stroke="#000" stroke-width="1"/>
<rect x="401.80" y="278.50" width="113.3" height="33.7" rx="2" ry="2" fill="#ffffff" fill-opacity="0.8" stroke="#cccccc" stroke-width="0.8"/>
<line x1="405.70" y1="286.65" x2="427.70" y2="286.65" stroke="#66c2a5" stroke-width="1.6"/>
<text x="436.00" y="290.55" class="tl" textLength="52.3" lengthAdjust="spacingAndGlyphs">NNPDF4.0</text>
<line x1="405.70" y1="302.15" x2="427.70" y2="302.15" stroke="#fc8d62" stroke-width="1.6"/>
<text x="436.00" y="306.05" class="tl" textLength="74.5" lengthAdjust="spacingAndGlyphs">NNPDF3.1-like</text></g>
<g id="ax20"><line x1="63.30" y1="529.50" x2="63.30" y2="724.90" class="grid"/>
<line x1="128.70" y1="529.50" x2="128.70" y2="724.90" class="grid"/>
<line x1="194.10" y1="529.50" x2="194.10" y2="724.90" class="grid"/>
<line x1="259.50" y1="529.50" x2="259.50" y2="724.90" class="grid"/>
<line x1="324.90" y1="529.50" x2="324.90" y2="724.90" class="grid"/>
<line x1="43.80" y1="724.90" x2="326.40" y2="724.90" class="grid"/>
<line x1="43.80" y1="698.85" x2="326.40" y2="698.85" class="grid"/>
<line x1="43.80" y1="672.79" x2="326.40" y2="672.79" class="grid"/>
<line x1="43.80" y1="646.74" x2="326.40" y2="646.74" class="grid"/>
<line x1="43.80" y1="620.69" x2="326.40" y2="620.69" class="grid"/>
<line x1="43.80" y1="594.63" x2="326.40" y2="594.63" class="grid"/>
<line x1="43.80" y1="568.58" x2="326.40" y2="568.58" class="grid"/>
<line x1="43.80" y1="542.53" x2="326.40" y2="542.53" class="grid"/>
<path d="M43.80,703.40 C47.08,704.19 57.31,706.75 63.50,708.11 C69.68,709.48 75.62,710.69 80.90,711.60 C86.19,712.51 91.12,713.18 95.20,713.57 C99.29,713.97 102.00,714.01 105.40,713.98 C108.80,713.95 111.16,713.92 115.60,713.40 C120.03,712.87 126.88,711.79 132.00,710.81 C137.12,709.83 143.31,708.23 146.31,707.53 C149.30,706.82 147.56,707.30 149.99,706.57 C152.42,705.85 157.24,704.40 160.90,703.19 C164.55,701.98 168.25,700.57 171.90,699.30 C175.55,698.02 179.16,696.71 182.81,695.54 C186.46,694.37 190.15,693.46 193.80,692.29 C197.45,691.11 201.44,689.86 204.71,688.51 C207.99,687.15 210.53,686.00 213.47,684.15 C216.40,682.31 219.57,679.73 222.33,677.44 C225.08,675.14 227.48,673.01 229.99,670.38 C232.50,667.76 234.90,665.12 237.39,661.69 C239.87,658.26 242.65,653.76 244.89,649.80 C247.13,645.84 248.87,642.12 250.84,637.92 C252.80,633.72 254.82,629.29 256.67,624.59 C258.52,619.89 260.20,615.16 261.93,609.71 C263.66,604.26 265.44,598.57 267.06,591.89 C268.67,585.21 270.23,577.03 271.61,569.60 C272.99,562.17 274.21,553.99 275.33,547.30 C276.44,540.62 277.54,534.05 278.30,529.50 C279.06,524.95 279.63,521.58 279.90,520.00" fill="none" stroke="#66c2a5" stroke-width="1.6" stroke-linecap="butt" stroke-linejoin="round" clip-path="url(#cp20)"/>
<path d="M43.80,706.10 C47.08,706.67 57.31,708.47 63.49,709.54 C69.68,710.62 75.63,711.85 80.91,712.56 C86.20,713.26 91.12,713.61 95.20,713.75 C99.28,713.89 102.00,713.64 105.40,713.41 C108.80,713.19 111.16,713.00 115.60,712.40 C120.03,711.80 126.90,710.77 132.01,709.82 C137.11,708.88 143.24,707.46 146.25,706.74 C149.25,706.01 147.61,706.13 150.06,705.47 C152.50,704.81 157.25,703.69 160.89,702.77 C164.53,701.84 168.25,700.85 171.90,699.91 C175.55,698.97 179.15,698.02 182.81,697.13 C186.46,696.23 190.16,695.51 193.81,694.52 C197.46,693.52 201.43,692.54 204.70,691.16 C207.97,689.78 210.50,688.44 213.44,686.25 C216.38,684.07 219.57,680.55 222.34,678.05 C225.10,675.55 227.52,673.41 230.03,671.23 C232.54,669.05 234.67,667.56 237.38,664.97 C240.09,662.38 243.83,658.73 246.31,655.69 C248.78,652.66 250.50,649.99 252.24,646.78 C253.98,643.56 255.24,640.37 256.73,636.42 C258.22,632.48 259.71,628.05 261.20,623.10 C262.69,618.15 264.24,612.40 265.69,606.70 C267.13,601.00 268.43,595.10 269.86,588.91 C271.28,582.73 272.84,576.52 274.25,569.59 C275.66,562.66 277.10,553.99 278.34,547.31 C279.58,540.63 280.83,534.05 281.69,529.50 C282.55,524.95 283.20,521.58 283.50,520.00" fill="none" stroke="#fc8d62" stroke-width="1.6" stroke-linecap="butt" stroke-linejoin="round" clip-path="url(#cp20)"/>
<path d="M43.80,529.50 V724.90 H326.40" class="spine"/>
<line x1="63.30" y1="724.90" x2="63.30" y2="728.30" class="tick"/>
<text x="63.70" y="739.80" class="tl" text-anchor="end">10</text>
<text x="64.20" y="735.90" class="ts"><tspan textLength="5.9" lengthAdjust="spacingAndGlyphs">−</tspan><tspan x="70.30">4</tspan></text>
<line x1="128.70" y1="724.90" x2="128.70" y2="728.30" class="tick"/>
<text x="129.10" y="739.80" class="tl" text-anchor="end">10</text>
<text x="129.60" y="735.90" class="ts"><tspan textLength="5.9" lengthAdjust="spacingAndGlyphs">−</tspan><tspan x="135.70">3</tspan></text>
<line x1="194.10" y1="724.90" x2="194.10" y2="728.30" class="tick"/>
<text x="194.50" y="739.80" class="tl" text-anchor="end">10</text>
<text x="195.00" y="735.90" class="ts"><tspan textLength="5.9" lengthAdjust="spacingAndGlyphs">−</tspan><tspan x="201.10">2</tspan></text>
<line x1="259.50" y1="724.90" x2="259.50" y2="728.30" class="tick"/>
<text x="259.90" y="739.80" class="tl" text-anchor="end">10</text>
<text x="260.40" y="735.90" class="ts"><tspan textLength="5.9" lengthAdjust="spacingAndGlyphs">−</tspan><tspan x="266.50">1</tspan></text>
<line x1="324.90" y1="724.90" x2="324.90" y2="728.30" class="tick"/>
<text x="328.30" y="739.80" class="tl" text-anchor="end">10</text>
<text x="328.80" y="735.90" class="ts">0</text>
<line x1="43.61" y1="724.90" x2="43.61" y2="726.80" class="mtick"/>
<line x1="48.79" y1="724.90" x2="48.79" y2="726.80" class="mtick"/>
<line x1="53.17" y1="724.90" x2="53.17" y2="726.80" class="mtick"/>
<line x1="56.96" y1="724.90" x2="56.96" y2="726.80" class="mtick"/>
<line x1="60.31" y1="724.90" x2="60.31" y2="726.80" class="mtick"/>
<line x1="82.99" y1="724.90" x2="82.99" y2="726.80" class="mtick"/>
<line x1="94.50" y1="724.90" x2="94.50" y2="726.80" class="mtick"/>
<line x1="102.67" y1="724.90" x2="102.67" y2="726.80" class="mtick"/>
<line x1="109.01" y1="724.90" x2="109.01" y2="726.80" class="mtick"/>
<line x1="114.19" y1="724.90" x2="114.19" y2="726.80" class="mtick"/>
<line x1="118.57" y1="724.90" x2="118.57" y2="726.80" class="mtick"/>
<line x1="122.36" y1="724.90" x2="122.36" y2="726.80" class="mtick"/>
<line x1="125.71" y1="724.90" x2="125.71" y2="726.80" class="mtick"/>
<line x1="148.39" y1="724.90" x2="148.39" y2="726.80" class="mtick"/>
<line x1="159.90" y1="724.90" x2="159.90" y2="726.80" class="mtick"/>
<line x1="168.07" y1="724.90" x2="168.07" y2="726.80" class="mtick"/>
<line x1="174.41" y1="724.90" x2="174.41" y2="726.80" class="mtick"/>
<line x1="179.59" y1="724.90" x2="179.59" y2="726.80" class="mtick"/>
<line x1="183.97" y1="724.90" x2="183.97" y2="726.80" class="mtick"/>
<line x1="187.76" y1="724.90" x2="187.76" y2="726.80" class="mtick"/>
<line x1="191.11" y1="724.90" x2="191.11" y2="726.80" class="mtick"/>
<line x1="213.79" y1="724.90" x2="213.79" y2="726.80" class="mtick"/>
<line x1="225.30" y1="724.90" x2="225.30" y2="726.80" class="mtick"/>
<line x1="233.47" y1="724.90" x2="233.47" y2="726.80" class="mtick"/>
<line x1="239.81" y1="724.90" x2="239.81" y2="726.80" class="mtick"/>
<line x1="244.99" y1="724.90" x2="244.99" y2="726.80" class="mtick"/>
<line x1="249.37" y1="724.90" x2="249.37" y2="726.80" class="mtick"/>
<line x1="253.16" y1="724.90" x2="253.16" y2="726.80" class="mtick"/>
<line x1="256.51" y1="724.90" x2="256.51" y2="726.80" class="mtick"/>
<line x1="279.19" y1="724.90" x2="279.19" y2="726.80" class="mtick"/>
<line x1="290.70" y1="724.90" x2="290.70" y2="726.80" class="mtick"/>
<line x1="298.87" y1="724.90" x2="298.87" y2="726.80" class="mtick"/>
<line x1="305.21" y1="724.90" x2="305.21" y2="726.80" class="mtick"/>
<line x1="310.39" y1="724.90" x2="310.39" y2="726.80" class="mtick"/>
<line x1="314.77" y1="724.90" x2="314.77" y2="726.80" class="mtick"/>
<line x1="318.56" y1="724.90" x2="318.56" y2="726.80" class="mtick"/>
<line x1="321.91" y1="724.90" x2="321.91" y2="726.80" class="mtick"/>
<line x1="40.40" y1="724.90" x2="43.80" y2="724.90" class="tick"/>
<text x="37.50" y="728.80" class="tl" text-anchor="end" textLength="23.4" lengthAdjust="spacingAndGlyphs">0.00</text>
<line x1="40.40" y1="698.85" x2="43.80" y2="698.85" class="tick"/>
<text x="37.50" y="702.75" class="tl" text-anchor="end" textLength="23.4" lengthAdjust="spacingAndGlyphs">0.02</text>
<line x1="40.40" y1="672.79" x2="43.80" y2="672.79" class="tick"/>
<text x="37.50" y="676.69" class="tl" text-anchor="end" textLength="23.4" lengthAdjust="spacingAndGlyphs">0.04</text>
<line x1="40.40" y1="646.74" x2="43.80" y2="646.74" class="tick"/>
<text x="37.50" y="650.64" class="tl" text-anchor="end" textLength="23.4" lengthAdjust="spacingAndGlyphs">0.06</text>
<line x1="40.40" y1="620.69" x2="43.80" y2="620.69" class="tick"/>
<text x="37.50" y="624.59" class="tl" text-anchor="end" textLength="23.4" lengthAdjust="spacingAndGlyphs">0.08</text>
<line x1="40.40" y1="594.63" x2="43.80" y2="594.63" class="tick"/>
<text x="37.50" y="598.53" class="tl" text-anchor="end" textLength="23.4" lengthAdjust="spacingAndGlyphs">0.10</text>
<line x1="40.40" y1="568.58" x2="43.80" y2="568.58" class="tick"/>
<text x="37.50" y="572.48" class="tl" text-anchor="end" textLength="23.4" lengthAdjust="spacingAndGlyphs">0.12</text>
<line x1="40.40" y1="542.53" x2="43.80" y2="542.53" class="tick"/>
<text x="37.50" y="546.43" class="tl" text-anchor="end" textLength="23.4" lengthAdjust="spacingAndGlyphs">0.14</text>
<text x="185.10" y="753.40" class="tl" text-anchor="middle">x</text>
<text transform="translate(8.20,627.20) rotate(-90)" class="tl" text-anchor="middle" textLength="112" lengthAdjust="spacingAndGlyphs">σ(Ratio to NNPDF4.0)</text>
<text x="185.10" y="523.60" class="tt" text-anchor="middle" textLength="83.5" lengthAdjust="spacingAndGlyphs">s at 100 GeV</text>
<rect x="49.30" y="534.90" width="113.3" height="33.7" rx="2" ry="2" fill="#ffffff" fill-opacity="0.8" stroke="#cccccc" stroke-width="0.8"/>
<line x1="53.20" y1="543.05" x2="75.20" y2="543.05" stroke="#66c2a5" stroke-width="1.6"/>
<text x="83.50" y="546.95" class="tl" textLength="52.3" lengthAdjust="spacingAndGlyphs">NNPDF4.0</text>
<line x1="53.20" y1="558.55" x2="75.20" y2="558.55" stroke="#fc8d62" stroke-width="1.6"/>
<text x="83.50" y="562.45" class="tl" textLength="74.5" lengthAdjust="spacingAndGlyphs">NNPDF3.1-like</text></g>
<g id="ax21"><line x1="415.80" y1="529.50" x2="415.80" y2="724.90" class="grid"/>
<line x1="481.20" y1="529.50" x2="481.20" y2="724.90" class="grid"/>
<line x1="546.60" y1="529.50" x2="546.60" y2="724.90" class="grid"/>
<line x1="612.00" y1="529.50" x2="612.00" y2="724.90" class="grid"/>
<line x1="677.40" y1="529.50" x2="677.40" y2="724.90" class="grid"/>
<line x1="396.30" y1="724.90" x2="678.90" y2="724.90" class="grid"/>
<line x1="396.30" y1="698.85" x2="678.90" y2="698.85" class="grid"/>
<line x1="396.30" y1="672.79" x2="678.90" y2="672.79" class="grid"/>
<line x1="396.30" y1="646.74" x2="678.90" y2="646.74" class="grid"/>
<line x1="396.30" y1="620.69" x2="678.90" y2="620.69" class="grid"/>
<line x1="396.30" y1="594.63" x2="678.90" y2="594.63" class="grid"/>
<line x1="396.30" y1="568.58" x2="678.90" y2="568.58" class="grid"/>
<line x1="396.30" y1="542.53" x2="678.90" y2="542.53" class="grid"/>
<path d="M396.30,703.60 C399.50,704.35 409.40,706.79 415.50,708.12 C421.60,709.45 427.62,710.70 432.90,711.58 C438.19,712.46 443.12,713.02 447.20,713.38 C451.28,713.75 454.00,713.80 457.40,713.80 C460.80,713.80 463.17,713.85 467.60,713.39 C472.03,712.92 478.89,711.99 484.00,711.01 C489.12,710.02 493.81,708.79 498.29,707.49 C502.78,706.18 506.96,704.63 510.89,703.19 C514.83,701.75 518.26,700.27 521.91,698.83 C525.56,697.40 529.78,695.79 532.79,694.58 C535.81,693.38 537.78,692.52 540.00,691.59 C542.22,690.66 544.06,689.81 546.11,689.02 C548.16,688.22 550.25,687.48 552.30,686.81 C554.35,686.14 556.36,685.60 558.40,684.99 C560.43,684.37 562.45,683.76 564.50,683.11 C566.55,682.46 568.65,681.84 570.70,681.09 C572.75,680.34 574.77,679.52 576.80,678.61 C578.84,677.69 580.87,676.75 582.90,675.60 C584.93,674.44 587.11,673.10 588.99,671.69 C590.87,670.27 592.48,668.80 594.20,667.11 C595.92,665.41 597.61,663.56 599.31,661.51 C601.01,659.45 602.74,657.27 604.40,654.80 C606.06,652.33 607.66,649.75 609.27,646.69 C610.88,643.62 612.40,640.35 614.04,636.42 C615.69,632.48 617.56,628.04 619.15,623.08 C620.75,618.13 622.26,612.41 623.62,606.71 C624.98,601.01 626.18,595.08 627.30,588.90 C628.41,582.72 629.38,576.53 630.30,569.60 C631.22,562.67 632.13,553.98 632.80,547.30 C633.47,540.62 633.94,534.05 634.32,529.50 C634.71,524.95 634.97,521.58 635.10,520.00" fill="none" stroke="#66c2a5" stroke-width="1.6" stroke-linecap="butt" stroke-linejoin="round" clip-path="url(#cp21)"/>
<path d="M396.30,706.50 C399.50,707.05 409.40,708.81 415.50,709.83 C421.60,710.84 427.62,711.94 432.91,712.59 C438.19,713.24 443.12,713.63 447.20,713.73 C451.28,713.84 454.00,713.52 457.40,713.20 C460.80,712.88 463.16,712.58 467.60,711.80 C472.03,711.02 478.89,709.65 484.01,708.52 C489.12,707.40 493.81,706.31 498.29,705.06 C502.77,703.80 506.96,702.32 510.90,700.99 C514.83,699.67 518.25,698.30 521.91,697.11 C525.56,695.92 529.80,694.62 532.81,693.86 C535.83,693.10 537.77,692.92 539.99,692.55 C542.20,692.17 544.05,691.86 546.10,691.62 C548.15,691.38 550.25,691.20 552.30,691.11 C554.35,691.03 556.37,691.11 558.40,691.11 C560.43,691.10 562.45,691.22 564.50,691.08 C566.55,690.95 568.82,690.67 570.70,690.29 C572.58,689.91 574.11,689.44 575.80,688.81 C577.50,688.17 579.19,687.46 580.89,686.48 C582.59,685.50 584.31,684.28 586.01,682.91 C587.71,681.55 589.39,680.07 591.09,678.29 C592.78,676.50 594.50,674.42 596.20,672.20 C597.90,669.99 599.61,667.47 601.31,665.01 C603.01,662.54 604.98,659.62 606.42,657.41 C607.86,655.21 608.95,653.55 609.96,651.78 C610.97,650.01 611.33,649.36 612.49,646.80 C613.65,644.24 615.38,640.36 616.92,636.41 C618.47,632.45 620.23,628.04 621.78,623.09 C623.32,618.14 624.89,612.40 626.20,606.70 C627.50,601.00 628.61,595.09 629.61,588.90 C630.61,582.72 631.46,576.53 632.19,569.60 C632.93,562.67 633.53,553.99 634.01,547.30 C634.50,540.62 634.84,534.05 635.12,529.50 C635.40,524.95 635.60,521.58 635.70,520.00" fill="none" stroke="#fc8d62" stroke-width="1.6" stroke-linecap="butt" stroke-linejoin="round" clip-path="url(#cp21)"/>
<path d="M396.30,529.50 V724.90 H678.90" class="spine"/>
<line x1="415.80" y1="724.90" x2="415.80" y2="728.30" class="tick"/>
<text x="416.20" y="739.80" class="tl" text-anchor="end">10</text>
<text x="416.70" y="735.90" class="ts"><tspan textLength="5.9" lengthAdjust="spacingAndGlyphs">−</tspan><tspan x="422.80">4</tspan></text>
<line x1="481.20" y1="724.90" x2="481.20" y2="728.30" class="tick"/>
<text x="481.60" y="739.80" class="tl" text-anchor="end">10</text>
<text x="482.10" y="735.90" class="ts"><tspan textLength="5.9" lengthAdjust="spacingAndGlyphs">−</tspan><tspan x="488.20">3</tspan></text>
<line x1="546.60" y1="724.90" x2="546.60" y2="728.30" class="tick"/>
<text x="547.00" y="739.80" class="tl" text-anchor="end">10</text>
<text x="547.50" y="735.90" class="ts"><tspan textLength="5.9" lengthAdjust="spacingAndGlyphs">−</tspan><tspan x="553.60">2</tspan></text>
<line x1="612.00" y1="724.90" x2="612.00" y2="728.30" class="tick"/>
<text x="612.40" y="739.80" class="tl" text-anchor="end">10</text>
<text x="612.90" y="735.90" class="ts"><tspan textLength="5.9" lengthAdjust="spacingAndGlyphs">−</tspan><tspan x="619.00">1</tspan></text>
<line x1="677.40" y1="724.90" x2="677.40" y2="728.30" class="tick"/>
<text x="680.80" y="739.80" class="tl" text-anchor="end">10</text>
<text x="681.30" y="735.90" class="ts">0</text>
<line x1="396.11" y1="724.90" x2="396.11" y2="726.80" class="mtick"/>
<line x1="401.29" y1="724.90" x2="401.29" y2="726.80" class="mtick"/>
<line x1="405.67" y1="724.90" x2="405.67" y2="726.80" class="mtick"/>
<line x1="409.46" y1="724.90" x2="409.46" y2="726.80" class="mtick"/>
<line x1="412.81" y1="724.90" x2="412.81" y2="726.80" class="mtick"/>
<line x1="435.49" y1="724.90" x2="435.49" y2="726.80" class="mtick"/>
<line x1="447.00" y1="724.90" x2="447.00" y2="726.80" class="mtick"/>
<line x1="455.17" y1="724.90" x2="455.17" y2="726.80" class="mtick"/>
<line x1="461.51" y1="724.90" x2="461.51" y2="726.80" class="mtick"/>
<line x1="466.69" y1="724.90" x2="466.69" y2="726.80" class="mtick"/>
<line x1="471.07" y1="724.90" x2="471.07" y2="726.80" class="mtick"/>
<line x1="474.86" y1="724.90" x2="474.86" y2="726.80" class="mtick"/>
<line x1="478.21" y1="724.90" x2="478.21" y2="726.80" class="mtick"/>
<line x1="500.89" y1="724.90" x2="500.89" y2="726.80" class="mtick"/>
<line x1="512.40" y1="724.90" x2="512.40" y2="726.80" class="mtick"/>
<line x1="520.57" y1="724.90" x2="520.57" y2="726.80" class="mtick"/>
<line x1="526.91" y1="724.90" x2="526.91" y2="726.80" class="mtick"/>
<line x1="532.09" y1="724.90" x2="532.09" y2="726.80" class="mtick"/>
<line x1="536.47" y1="724.90" x2="536.47" y2="726.80" class="mtick"/>
<line x1="540.26" y1="724.90" x2="540.26" y2="726.80" class="mtick"/>
<line x1="543.61" y1="724.90" x2="543.61" y2="726.80" class="mtick"/>
<line x1="566.29" y1="724.90" x2="566.29" y2="726.80" class="mtick"/>
<line x1="577.80" y1="724.90" x2="577.80" y2="726.80" class="mtick"/>
<line x1="585.97" y1="724.90" x2="585.97" y2="726.80" class="mtick"/>
<line x1="592.31" y1="724.90" x2="592.31" y2="726.80" class="mtick"/>
<line x1="597.49" y1="724.90" x2="597.49" y2="726.80" class="mtick"/>
<line x1="601.87" y1="724.90" x2="601.87" y2="726.80" class="mtick"/>
<line x1="605.66" y1="724.90" x2="605.66" y2="726.80" class="mtick"/>
<line x1="609.01" y1="724.90" x2="609.01" y2="726.80" class="mtick"/>
<line x1="631.69" y1="724.90" x2="631.69" y2="726.80" class="mtick"/>
<line x1="643.20" y1="724.90" x2="643.20" y2="726.80" class="mtick"/>
<line x1="651.37" y1="724.90" x2="651.37" y2="726.80" class="mtick"/>
<line x1="657.71" y1="724.90" x2="657.71" y2="726.80" class="mtick"/>
<line x1="662.89" y1="724.90" x2="662.89" y2="726.80" class="mtick"/>
<line x1="667.27" y1="724.90" x2="667.27" y2="726.80" class="mtick"/>
<line x1="671.06" y1="724.90" x2="671.06" y2="726.80" class="mtick"/>
<line x1="674.41" y1="724.90" x2="674.41" y2="726.80" class="mtick"/>
<line x1="392.90" y1="724.90" x2="396.30" y2="724.90" class="tick"/>
<text x="390.00" y="728.80" class="tl" text-anchor="end" textLength="23.4" lengthAdjust="spacingAndGlyphs">0.00</text>
<line x1="392.90" y1="698.85" x2="396.30" y2="698.85" class="tick"/>
<text x="390.00" y="702.75" class="tl" text-anchor="end" textLength="23.4" lengthAdjust="spacingAndGlyphs">0.02</text>
<line x1="392.90" y1="672.79" x2="396.30" y2="672.79" class="tick"/>
<text x="390.00" y="676.69" class="tl" text-anchor="end" textLength="23.4" lengthAdjust="spacingAndGlyphs">0.04</text>
<line x1="392.90" y1="646.74" x2="396.30" y2="646.74" class="tick"/>
<text x="390.00" y="650.64" class="tl" text-anchor="end" textLength="23.4" lengthAdjust="spacingAndGlyphs">0.06</text>
<line x1="392.90" y1="620.69" x2="396.30" y2="620.69" class="tick"/>
<text x="390.00" y="624.59" class="tl" text-anchor="end" textLength="23.4" lengthAdjust="spacingAndGlyphs">0.08</text>
<line x1="392.90" y1="594.63" x2="396.30" y2="594.63" class="tick"/>
<text x="390.00" y="598.53" class="tl" text-anchor="end" textLength="23.4" lengthAdjust="spacingAndGlyphs">0.10</text>
<line x1="392.90" y1="568.58" x2="396.30" y2="568.58" class="tick"/>
<text x="390.00" y="572.48" class="tl" text-anchor="end" textLength="23.4" lengthAdjust="spacingAndGlyphs">0.12</text>
<line x1="392.90" y1="542.53" x2="396.30" y2="542.53" class="tick"/>
<text x="390.00" y="546.43" class="tl" text-anchor="end" textLength="23.4" lengthAdjust="spacingAndGlyphs">0.14</text>
<text x="537.60" y="753.40" class="tl" text-anchor="middle">x</text>
<text transform="translate(360.70,627.20) rotate(-90)" class="tl" text-anchor="middle" textLength="112" lengthAdjust="spacingAndGlyphs">σ(Ratio to NNPDF4.0)</text>
<text x="537.60" y="523.60" class="tt" text-anchor="middle" textLength="83.5" lengthAdjust="spacingAndGlyphs">s̄ at 100 GeV</text>
<rect x="401.80" y="534.90" width="113.3" height="33.7" rx="2" ry="2" fill="#ffffff" fill-opacity="0.8" stroke="#cccccc" stroke-width="0.8"/>
<line x1="405.70" y1="543.05" x2="427.70" y2="543.05" stroke="#66c2a5" stroke-width="1.6"/>
<text x="436.00" y="546.95" class="tl" textLength="52.3" lengthAdjust="spacingAndGlyphs">NNPDF4.0</text>
<line x1="405.70" y1="558.55" x2="427.70" y2="558.55" stroke="#fc8d62" stroke-width="1.6"/>
<text x="436.00" y="562.45" class="tl" textLength="74.5" lengthAdjust="spacingAndGlyphs">NNPDF3.1-like</text></g>
<g id="ax30"><line x1="63.30" y1="786.20" x2="63.30" y2="981.60" class="grid"/>
<line x1="128.70" y1="786.20" x2="128.70" y2="981.60" class="grid"/>
<line x1="194.10" y1="786.20" x2="194.10" y2="981.60" class="grid"/>
<line x1="259.50" y1="786.20" x2="259.50" y2="981.60" class="grid"/>
<line x1="324.90" y1="786.20" x2="324.90" y2="981.60" class="grid"/>
<line x1="43.80" y1="981.60" x2="326.40" y2="981.60" class="grid"/>
<line x1="43.80" y1="955.55" x2="326.40" y2="955.55" class="grid"/>
<line x1="43.80" y1="929.49" x2="326.40" y2="929.49" class="grid"/>
<line x1="43.80" y1="903.44" x2="326.40" y2="903.44" class="grid"/>
<line x1="43.80" y1="877.39" x2="326.40" y2="877.39" class="grid"/>
<line x1="43.80" y1="851.33" x2="326.40" y2="851.33" class="grid"/>
<line x1="43.80" y1="825.28" x2="326.40" y2="825.28" class="grid"/>
<line x1="43.80" y1="799.23" x2="326.40" y2="799.23" class="grid"/>
<path d="M43.80,958.80 C47.08,959.30 57.31,960.86 63.50,961.81 C69.68,962.76 74.60,963.57 80.90,964.50 C87.20,965.43 95.52,966.67 101.30,967.39 C107.09,968.10 110.48,968.40 115.60,968.80 C120.72,969.21 126.88,969.61 132.00,969.80 C137.12,970.00 141.48,970.07 146.30,969.98 C151.12,969.90 156.63,969.56 160.90,969.30 C165.17,969.04 168.25,968.72 171.90,968.40 C175.55,968.09 179.78,967.66 182.80,967.41 C185.82,967.16 187.78,967.06 190.00,966.90 C192.22,966.75 194.05,966.66 196.10,966.50 C198.15,966.33 200.25,966.16 202.30,965.91 C204.35,965.66 206.36,965.41 208.40,964.98 C210.43,964.54 212.45,963.96 214.50,963.31 C216.55,962.66 218.65,961.89 220.70,961.09 C222.75,960.29 224.77,959.39 226.80,958.51 C228.84,957.62 230.86,956.69 232.90,955.79 C234.93,954.89 236.96,953.94 239.01,953.13 C241.06,952.31 243.33,951.62 245.21,950.90 C247.08,950.19 248.99,949.51 250.29,948.86 C251.58,948.20 252.16,947.73 252.98,946.98 C253.80,946.24 254.51,945.41 255.21,944.41 C255.91,943.41 256.59,942.26 257.18,940.99 C257.76,939.73 258.22,938.31 258.73,936.81 C259.25,935.31 259.68,934.19 260.26,931.99 C260.85,929.79 261.60,926.30 262.22,923.61 C262.84,920.91 263.41,918.45 263.99,915.80 C264.57,913.15 264.99,911.43 265.70,907.70 C266.41,903.97 267.32,899.48 268.26,893.39 C269.20,887.31 270.33,878.62 271.33,871.20 C272.34,863.79 273.37,856.33 274.28,848.90 C275.19,841.46 276.00,834.03 276.79,826.60 C277.58,819.17 278.33,810.99 279.03,804.30 C279.72,797.62 280.48,791.05 280.98,786.50 C281.48,781.95 281.83,778.58 282.00,777.00" fill="none" stroke="#66c2a5" stroke-width="1.6" stroke-linecap="butt" stroke-linejoin="round" clip-path="url(#cp30)"/>
<path d="M43.80,959.80 C47.08,960.25 57.31,961.63 63.50,962.51 C69.68,963.40 74.60,964.19 80.90,965.10 C87.20,966.01 95.52,967.28 101.30,967.99 C107.09,968.71 110.48,969.03 115.60,969.40 C120.72,969.77 126.88,970.10 132.00,970.20 C137.12,970.30 141.49,970.26 146.30,970.01 C151.12,969.75 156.63,969.26 160.90,968.67 C165.16,968.08 168.24,967.32 171.89,966.49 C175.55,965.66 179.80,964.42 182.82,963.68 C185.83,962.94 187.77,962.63 189.99,962.04 C192.20,961.44 194.05,960.87 196.11,960.11 C198.16,959.35 200.24,958.51 202.29,957.48 C204.34,956.44 206.37,955.17 208.40,953.91 C210.44,952.65 212.45,951.26 214.50,949.90 C216.55,948.55 218.64,947.11 220.70,945.79 C222.75,944.47 224.77,943.12 226.81,942.01 C228.84,940.90 230.87,939.92 232.90,939.10 C234.93,938.29 236.95,937.67 239.01,937.13 C241.06,936.60 243.34,936.37 245.22,935.90 C247.09,935.43 248.96,934.96 250.26,934.31 C251.55,933.66 252.17,932.90 253.00,932.02 C253.82,931.13 254.51,930.13 255.21,929.01 C255.91,927.89 256.58,926.71 257.17,925.29 C257.77,923.87 258.25,922.30 258.80,920.50 C259.35,918.71 259.87,916.62 260.47,914.52 C261.08,912.42 261.55,911.40 262.42,907.88 C263.29,904.36 264.47,899.51 265.70,893.40 C266.93,887.29 268.49,878.62 269.79,871.20 C271.10,863.78 272.27,856.34 273.52,848.90 C274.77,841.47 276.08,834.03 277.30,826.60 C278.51,819.16 279.80,810.98 280.79,804.30 C281.77,797.62 282.60,791.05 283.22,786.50 C283.84,781.95 284.29,778.58 284.50,777.00" fill="none" stroke="#fc8d62" stroke-width="1.6" stroke-linecap="butt" stroke-linejoin="round" clip-path="url(#cp30)"/>
<path d="M43.80,786.20 V981.60 H326.40" class="spine"/>
<line x1="63.30" y1="981.60" x2="63.30" y2="985.00" class="tick"/>
<text x="63.70" y="996.50" class="tl" text-anchor="end">10</text>
<text x="64.20" y="992.60" class="ts"><tspan textLength="5.9" lengthAdjust="spacingAndGlyphs">−</tspan><tspan x="70.30">4</tspan></text>
<line x1="128.70" y1="981.60" x2="128.70" y2="985.00" class="tick"/>
<text x="129.10" y="996.50" class="tl" text-anchor="end">10</text>
<text x="129.60" y="992.60" class="ts"><tspan textLength="5.9" lengthAdjust="spacingAndGlyphs">−</tspan><tspan x="135.70">3</tspan></text>
<line x1="194.10" y1="981.60" x2="194.10" y2="985.00" class="tick"/>
<text x="194.50" y="996.50" class="tl" text-anchor="end">10</text>
<text x="195.00" y="992.60" class="ts"><tspan textLength="5.9" lengthAdjust="spacingAndGlyphs">−</tspan><tspan x="201.10">2</tspan></text>
<line x1="259.50" y1="981.60" x2="259.50" y2="985.00" class="tick"/>
<text x="259.90" y="996.50" class="tl" text-anchor="end">10</text>
<text x="260.40" y="992.60" class="ts"><tspan textLength="5.9" lengthAdjust="spacingAndGlyphs">−</tspan><tspan x="266.50">1</tspan></text>
<line x1="324.90" y1="981.60" x2="324.90" y2="985.00" class="tick"/>
<text x="328.30" y="996.50" class="tl" text-anchor="end">10</text>
<text x="328.80" y="992.60" class="ts">0</text>
<line x1="43.61" y1="981.60" x2="43.61" y2="983.50" class="mtick"/>
<line x1="48.79" y1="981.60" x2="48.79" y2="983.50" class="mtick"/>
<line x1="53.17" y1="981.60" x2="53.17" y2="983.50" class="mtick"/>
<line x1="56.96" y1="981.60" x2="56.96" y2="983.50" class="mtick"/>
<line x1="60.31" y1="981.60" x2="60.31" y2="983.50" class="mtick"/>
<line x1="82.99" y1="981.60" x2="82.99" y2="983.50" class="mtick"/>
<line x1="94.50" y1="981.60" x2="94.50" y2="983.50" class="mtick"/>
<line x1="102.67" y1="981.60" x2="102.67" y2="983.50" class="mtick"/>
<line x1="109.01" y1="981.60" x2="109.01" y2="983.50" class="mtick"/>
<line x1="114.19" y1="981.60" x2="114.19" y2="983.50" class="mtick"/>
<line x1="118.57" y1="981.60" x2="118.57" y2="983.50" class="mtick"/>
<line x1="122.36" y1="981.60" x2="122.36" y2="983.50" class="mtick"/>
<line x1="125.71" y1="981.60" x2="125.71" y2="983.50" class="mtick"/>
<line x1="148.39" y1="981.60" x2="148.39" y2="983.50" class="mtick"/>
<line x1="159.90" y1="981.60" x2="159.90" y2="983.50" class="mtick"/>
<line x1="168.07" y1="981.60" x2="168.07" y2="983.50" class="mtick"/>
<line x1="174.41" y1="981.60" x2="174.41" y2="983.50" class="mtick"/>
<line x1="179.59" y1="981.60" x2="179.59" y2="983.50" class="mtick"/>
<line x1="183.97" y1="981.60" x2="183.97" y2="983.50" class="mtick"/>
<line x1="187.76" y1="981.60" x2="187.76" y2="983.50" class="mtick"/>
<line x1="191.11" y1="981.60" x2="191.11" y2="983.50" class="mtick"/>
<line x1="213.79" y1="981.60" x2="213.79" y2="983.50" class="mtick"/>
<line x1="225.30" y1="981.60" x2="225.30" y2="983.50" class="mtick"/>
<line x1="233.47" y1="981.60" x2="233.47" y2="983.50" class="mtick"/>
<line x1="239.81" y1="981.60" x2="239.81" y2="983.50" class="mtick"/>
<line x1="244.99" y1="981.60" x2="244.99" y2="983.50" class="mtick"/>
<line x1="249.37" y1="981.60" x2="249.37" y2="983.50" class="mtick"/>
<line x1="253.16" y1="981.60" x2="253.16" y2="983.50" class="mtick"/>
<line x1="256.51" y1="981.60" x2="256.51" y2="983.50" class="mtick"/>
<line x1="279.19" y1="981.60" x2="279.19" y2="983.50" class="mtick"/>
<line x1="290.70" y1="981.60" x2="290.70" y2="983.50" class="mtick"/>
<line x1="298.87" y1="981.60" x2="298.87" y2="983.50" class="mtick"/>
<line x1="305.21" y1="981.60" x2="305.21" y2="983.50" class="mtick"/>
<line x1="310.39" y1="981.60" x2="310.39" y2="983.50" class="mtick"/>
<line x1="314.77" y1="981.60" x2="314.77" y2="983.50" class="mtick"/>
<line x1="318.56" y1="981.60" x2="318.56" y2="983.50" class="mtick"/>
<line x1="321.91" y1="981.60" x2="321.91" y2="983.50" class="mtick"/>
<line x1="40.40" y1="981.60" x2="43.80" y2="981.60" class="tick"/>
<text x="37.50" y="985.50" class="tl" text-anchor="end" textLength="23.4" lengthAdjust="spacingAndGlyphs">0.00</text>
<line x1="40.40" y1="955.55" x2="43.80" y2="955.55" class="tick"/>
<text x="37.50" y="959.45" class="tl" text-anchor="end" textLength="23.4" lengthAdjust="spacingAndGlyphs">0.02</text>
<line x1="40.40" y1="929.49" x2="43.80" y2="929.49" class="tick"/>
<text x="37.50" y="933.39" class="tl" text-anchor="end" textLength="23.4" lengthAdjust="spacingAndGlyphs">0.04</text>
<line x1="40.40" y1="903.44" x2="43.80" y2="903.44" class="tick"/>
<text x="37.50" y="907.34" class="tl" text-anchor="end" textLength="23.4" lengthAdjust="spacingAndGlyphs">0.06</text>
<line x1="40.40" y1="877.39" x2="43.80" y2="877.39" class="tick"/>
<text x="37.50" y="881.29" class="tl" text-anchor="end" textLength="23.4" lengthAdjust="spacingAndGlyphs">0.08</text>
<line x1="40.40" y1="851.33" x2="43.80" y2="851.33" class="tick"/>
<text x="37.50" y="855.23" class="tl" text-anchor="end" textLength="23.4" lengthAdjust="spacingAndGlyphs">0.10</text>
<line x1="40.40" y1="825.28" x2="43.80" y2="825.28" class="tick"/>
<text x="37.50" y="829.18" class="tl" text-anchor="end" textLength="23.4" lengthAdjust="spacingAndGlyphs">0.12</text>
<line x1="40.40" y1="799.23" x2="43.80" y2="799.23" class="tick"/>
<text x="37.50" y="803.13" class="tl" text-anchor="end" textLength="23.4" lengthAdjust="spacingAndGlyphs">0.14</text>
<text x="185.10" y="1010.10" class="tl" text-anchor="middle">x</text>
<text transform="translate(8.20,883.90) rotate(-90)" class="tl" text-anchor="middle" textLength="112" lengthAdjust="spacingAndGlyphs">σ(Ratio to NNPDF4.0)</text>
<text x="185.10" y="780.30" class="tt" text-anchor="middle" textLength="83.5" lengthAdjust="spacingAndGlyphs">c at 100 GeV</text>
<rect x="49.30" y="791.60" width="113.3" height="33.7" rx="2" ry="2" fill="#ffffff" fill-opacity="0.8" stroke="#cccccc" stroke-width="0.8"/>
<line x1="53.20" y1="799.75" x2="75.20" y2="799.75" stroke="#66c2a5" stroke-width="1.6"/>
<text x="83.50" y="803.65" class="tl" textLength="52.3" lengthAdjust="spacingAndGlyphs">NNPDF4.0</text>
<line x1="53.20" y1="815.25" x2="75.20" y2="815.25" stroke="#fc8d62" stroke-width="1.6"/>
<text x="83.50" y="819.15" class="tl" textLength="74.5" lengthAdjust="spacingAndGlyphs">NNPDF3.1-like</text></g>
<g id="ax31"><line x1="415.80" y1="786.20" x2="415.80" y2="981.60" class="grid"/>
<line x1="481.20" y1="786.20" x2="481.20" y2="981.60" class="grid"/>
<line x1="546.60" y1="786.20" x2="546.60" y2="981.60" class="grid"/>
<line x1="612.00" y1="786.20" x2="612.00" y2="981.60" class="grid"/>
<line x1="677.40" y1="786.20" x2="677.40" y2="981.60" class="grid"/>
<line x1="396.30" y1="981.60" x2="678.90" y2="981.60" class="grid"/>
<line x1="396.30" y1="955.55" x2="678.90" y2="955.55" class="grid"/>
<line x1="396.30" y1="929.49" x2="678.90" y2="929.49" class="grid"/>
<line x1="396.30" y1="903.44" x2="678.90" y2="903.44" class="grid"/>
<line x1="396.30" y1="877.39" x2="678.90" y2="877.39" class="grid"/>
<line x1="396.30" y1="851.33" x2="678.90" y2="851.33" class="grid"/>
<line x1="396.30" y1="825.28" x2="678.90" y2="825.28" class="grid"/>
<line x1="396.30" y1="799.23" x2="678.90" y2="799.23" class="grid"/>
<path d="M396.30,963.90 C399.50,964.41 409.40,966.03 415.50,966.99 C421.60,967.94 426.60,968.68 432.90,969.63 C439.20,970.57 447.52,971.93 453.30,972.68 C459.09,973.43 463.17,973.78 467.60,974.11 C472.03,974.43 475.47,974.60 479.90,974.64 C484.33,974.68 488.42,974.49 494.20,974.33 C499.98,974.17 508.64,973.78 514.60,973.70 C520.57,973.62 524.80,973.67 530.00,973.85 C535.20,974.03 540.15,974.46 545.80,974.77 C551.45,975.08 557.87,975.49 563.90,975.71 C569.93,975.93 576.72,976.09 582.00,976.07 C587.28,976.06 592.60,975.74 595.60,975.62 C598.60,975.49 598.37,975.53 599.99,975.31 C601.61,975.10 603.55,974.71 605.30,974.32 C607.05,973.93 608.75,973.51 610.50,972.99 C612.25,972.47 614.05,971.85 615.81,971.21 C617.56,970.58 619.41,969.92 621.00,969.20 C622.60,968.48 624.07,967.72 625.39,966.88 C626.71,966.05 627.81,965.16 628.91,964.21 C630.01,963.26 630.97,962.36 631.99,961.19 C633.00,960.02 634.06,958.61 635.01,957.21 C635.96,955.81 636.81,954.46 637.69,952.80 C638.57,951.13 639.50,949.17 640.30,947.20 C641.10,945.24 641.84,943.05 642.49,941.00 C643.14,938.95 643.61,937.09 644.22,934.91 C644.82,932.72 645.46,930.61 646.12,927.90 C646.79,925.20 647.44,923.18 648.21,918.68 C648.97,914.18 649.89,907.58 650.72,900.90 C651.55,894.22 652.37,887.27 653.18,878.60 C654.00,869.93 654.89,858.82 655.61,848.90 C656.33,838.98 656.91,829.50 657.50,819.10 C658.09,808.70 658.77,793.52 659.12,786.50 C659.47,779.48 659.52,778.58 659.60,777.00" fill="none" stroke="#66c2a5" stroke-width="1.6" stroke-linecap="butt" stroke-linejoin="round" clip-path="url(#cp31)"/>
<path d="M396.30,966.50 C399.50,966.92 409.40,968.21 415.50,969.00 C421.60,969.79 426.60,970.43 432.90,971.21 C439.20,971.99 447.52,973.08 453.30,973.70 C459.09,974.31 463.17,974.63 467.60,974.89 C472.03,975.15 475.47,975.26 479.90,975.26 C484.33,975.26 488.42,975.09 494.20,974.91 C499.98,974.72 508.63,974.22 514.60,974.14 C520.57,974.05 524.80,974.27 530.00,974.41 C535.20,974.55 540.15,974.86 545.80,974.96 C551.45,975.06 557.87,975.05 563.90,975.02 C569.93,974.99 576.72,974.94 582.00,974.79 C587.28,974.64 592.59,974.34 595.59,974.12 C598.59,973.91 598.36,973.92 599.98,973.52 C601.60,973.11 603.54,972.44 605.29,971.69 C607.05,970.94 608.76,969.90 610.51,969.02 C612.26,968.13 614.04,967.19 615.79,966.38 C617.55,965.57 619.41,964.69 621.02,964.15 C622.62,963.60 624.09,963.42 625.40,963.10 C626.72,962.79 627.81,962.68 628.91,962.28 C630.00,961.87 631.03,961.43 631.97,960.67 C632.92,959.91 633.78,958.86 634.58,957.70 C635.39,956.54 636.02,955.33 636.82,953.71 C637.62,952.10 638.60,949.97 639.40,948.00 C640.19,946.03 640.90,944.08 641.59,941.90 C642.28,939.72 642.90,937.24 643.52,934.91 C644.14,932.57 644.68,930.60 645.30,927.90 C645.92,925.20 646.49,923.19 647.24,918.69 C647.99,914.19 648.97,907.58 649.81,900.90 C650.65,894.22 651.48,887.27 652.29,878.60 C653.11,869.93 654.00,858.82 654.70,848.90 C655.41,838.98 655.95,829.50 656.50,819.10 C657.06,808.70 657.69,793.52 658.03,786.50 C658.36,779.48 658.42,778.58 658.50,777.00" fill="none" stroke="#fc8d62" stroke-width="1.6" stroke-linecap="butt" stroke-linejoin="round" clip-path="url(#cp31)"/>
<path d="M396.30,786.20 V981.60 H678.90" class="spine"/>
<line x1="415.80" y1="981.60" x2="415.80" y2="985.00" class="tick"/>
<text x="416.20" y="996.50" class="tl" text-anchor="end">10</text>
<text x="416.70" y="992.60" class="ts"><tspan textLength="5.9" lengthAdjust="spacingAndGlyphs">−</tspan><tspan x="422.80">4</tspan></text>
<line x1="481.20" y1="981.60" x2="481.20" y2="985.00" class="tick"/>
<text x="481.60" y="996.50" class="tl" text-anchor="end">10</text>
<text x="482.10" y="992.60" class="ts"><tspan textLength="5.9" lengthAdjust="spacingAndGlyphs">−</tspan><tspan x="488.20">3</tspan></text>
<line x1="546.60" y1="981.60" x2="546.60" y2="985.00" class="tick"/>
<text x="547.00" y="996.50" class="tl" text-anchor="end">10</text>
<text x="547.50" y="992.60" class="ts"><tspan textLength="5.9" lengthAdjust="spacingAndGlyphs">−</tspan><tspan x="553.60">2</tspan></text>
<line x1="612.00" y1="981.60" x2="612.00" y2="985.00" class="tick"/>
<text x="612.40" y="996.50" class="tl" text-anchor="end">10</text>
<text x="612.90" y="992.60" class="ts"><tspan textLength="5.9" lengthAdjust="spacingAndGlyphs">−</tspan><tspan x="619.00">1</tspan></text>
<line x1="677.40" y1="981.60" x2="677.40" y2="985.00" class="tick"/>
<text x="680.80" y="996.50" class="tl" text-anchor="end">10</text>
<text x="681.30" y="992.60" class="ts">0</text>
<line x1="396.11" y1="981.60" x2="396.11" y2="983.50" class="mtick"/>
<line x1="401.29" y1="981.60" x2="401.29" y2="983.50" class="mtick"/>
<line x1="405.67" y1="981.60" x2="405.67" y2="983.50" class="mtick"/>
<line x1="409.46" y1="981.60" x2="409.46" y2="983.50" class="mtick"/>
<line x1="412.81" y1="981.60" x2="412.81" y2="983.50" class="mtick"/>
<line x1="435.49" y1="981.60" x2="435.49" y2="983.50" class="mtick"/>
<line x1="447.00" y1="981.60" x2="447.00" y2="983.50" class="mtick"/>
<line x1="455.17" y1="981.60" x2="455.17" y2="983.50" class="mtick"/>
<line x1="461.51" y1="981.60" x2="461.51" y2="983.50" class="mtick"/>
<line x1="466.69" y1="981.60" x2="466.69" y2="983.50" class="mtick"/>
<line x1="471.07" y1="981.60" x2="471.07" y2="983.50" class="mtick"/>
<line x1="474.86" y1="981.60" x2="474.86" y2="983.50" class="mtick"/>
<line x1="478.21" y1="981.60" x2="478.21" y2="983.50" class="mtick"/>
<line x1="500.89" y1="981.60" x2="500.89" y2="983.50" class="mtick"/>
<line x1="512.40" y1="981.60" x2="512.40" y2="983.50" class="mtick"/>
<line x1="520.57" y1="981.60" x2="520.57" y2="983.50" class="mtick"/>
<line x1="526.91" y1="981.60" x2="526.91" y2="983.50" class="mtick"/>
<line x1="532.09" y1="981.60" x2="532.09" y2="983.50" class="mtick"/>
<line x1="536.47" y1="981.60" x2="536.47" y2="983.50" class="mtick"/>
<line x1="540.26" y1="981.60" x2="540.26" y2="983.50" class="mtick"/>
<line x1="543.61" y1="981.60" x2="543.61" y2="983.50" class="mtick"/>
<line x1="566.29" y1="981.60" x2="566.29" y2="983.50" class="mtick"/>
<line x1="577.80" y1="981.60" x2="577.80" y2="983.50" class="mtick"/>
<line x1="585.97" y1="981.60" x2="585.97" y2="983.50" class="mtick"/>
<line x1="592.31" y1="981.60" x2="592.31" y2="983.50" class="mtick"/>
<line x1="597.49" y1="981.60" x2="597.49" y2="983.50" class="mtick"/>
<line x1="601.87" y1="981.60" x2="601.87" y2="983.50" class="mtick"/>
<line x1="605.66" y1="981.60" x2="605.66" y2="983.50" class="mtick"/>
<line x1="609.01" y1="981.60" x2="609.01" y2="983.50" class="mtick"/>
<line x1="631.69" y1="981.60" x2="631.69" y2="983.50" class="mtick"/>
<line x1="643.20" y1="981.60" x2="643.20" y2="983.50" class="mtick"/>
<line x1="651.37" y1="981.60" x2="651.37" y2="983.50" class="mtick"/>
<line x1="657.71" y1="981.60" x2="657.71" y2="983.50" class="mtick"/>
<line x1="662.89" y1="981.60" x2="662.89" y2="983.50" class="mtick"/>
<line x1="667.27" y1="981.60" x2="667.27" y2="983.50" class="mtick"/>
<line x1="671.06" y1="981.60" x2="671.06" y2="983.50" class="mtick"/>
<line x1="674.41" y1="981.60" x2="674.41" y2="983.50" class="mtick"/>
<line x1="392.90" y1="981.60" x2="396.30" y2="981.60" class="tick"/>
<text x="390.00" y="985.50" class="tl" text-anchor="end" textLength="23.4" lengthAdjust="spacingAndGlyphs">0.00</text>
<line x1="392.90" y1="955.55" x2="396.30" y2="955.55" class="tick"/>
<text x="390.00" y="959.45" class="tl" text-anchor="end" textLength="23.4" lengthAdjust="spacingAndGlyphs">0.02</text>
<line x1="392.90" y1="929.49" x2="396.30" y2="929.49" class="tick"/>
<text x="390.00" y="933.39" class="tl" text-anchor="end" textLength="23.4" lengthAdjust="spacingAndGlyphs">0.04</text>
<line x1="392.90" y1="903.44" x2="396.30" y2="903.44" class="tick"/>
<text x="390.00" y="907.34" class="tl" text-anchor="end" textLength="23.4" lengthAdjust="spacingAndGlyphs">0.06</text>
<line x1="392.90" y1="877.39" x2="396.30" y2="877.39" class="tick"/>
<text x="390.00" y="881.29" class="tl" text-anchor="end" textLength="23.4" lengthAdjust="spacingAndGlyphs">0.08</text>
<line x1="392.90" y1="851.33" x2="396.30" y2="851.33" class="tick"/>
<text x="390.00" y="855.23" class="tl" text-anchor="end" textLength="23.4" lengthAdjust="spacingAndGlyphs">0.10</text>
<line x1="392.90" y1="825.28" x2="396.30" y2="825.28" class="tick"/>
<text x="390.00" y="829.18" class="tl" text-anchor="end" textLength="23.4" lengthAdjust="spacingAndGlyphs">0.12</text>
<line x1="392.90" y1="799.23" x2="396.30" y2="799.23" class="tick"/>
<text x="390.00" y="803.13" class="tl" text-anchor="end" textLength="23.4" lengthAdjust="spacingAndGlyphs">0.14</text>
<text x="537.60" y="1010.10" class="tl" text-anchor="middle">x</text>
<text transform="translate(360.70,883.90) rotate(-90)" class="tl" text-anchor="middle" textLength="112" lengthAdjust="spacingAndGlyphs">σ(Ratio to NNPDF4.0)</text>
<text x="537.60" y="780.30" class="tt" text-anchor="middle" textLength="83.5" lengthAdjust="spacingAndGlyphs">g at 100 GeV</text>
<rect x="401.80" y="791.60" width="113.3" height="33.7" rx="2" ry="2" fill="#ffffff" fill-opacity="0.8" stroke="#cccccc" stroke-width="0.8"/>
<line x1="405.70" y1="799.75" x2="427.70" y2="799.75" stroke="#66c2a5" stroke-width="1.6"/>
<text x="436.00" y="803.65" class="tl" textLength="52.3" lengthAdjust="spacingAndGlyphs">NNPDF4.0</text>
<line x1="405.70" y1="815.25" x2="427.70" y2="815.25" stroke="#fc8d62" stroke-width="1.6"/>
<text x="436.00" y="819.15" class="tl" textLength="74.5" lengthAdjust="spacingAndGlyphs">NNPDF3.1-like</text></g>
</svg>
</body></html>
